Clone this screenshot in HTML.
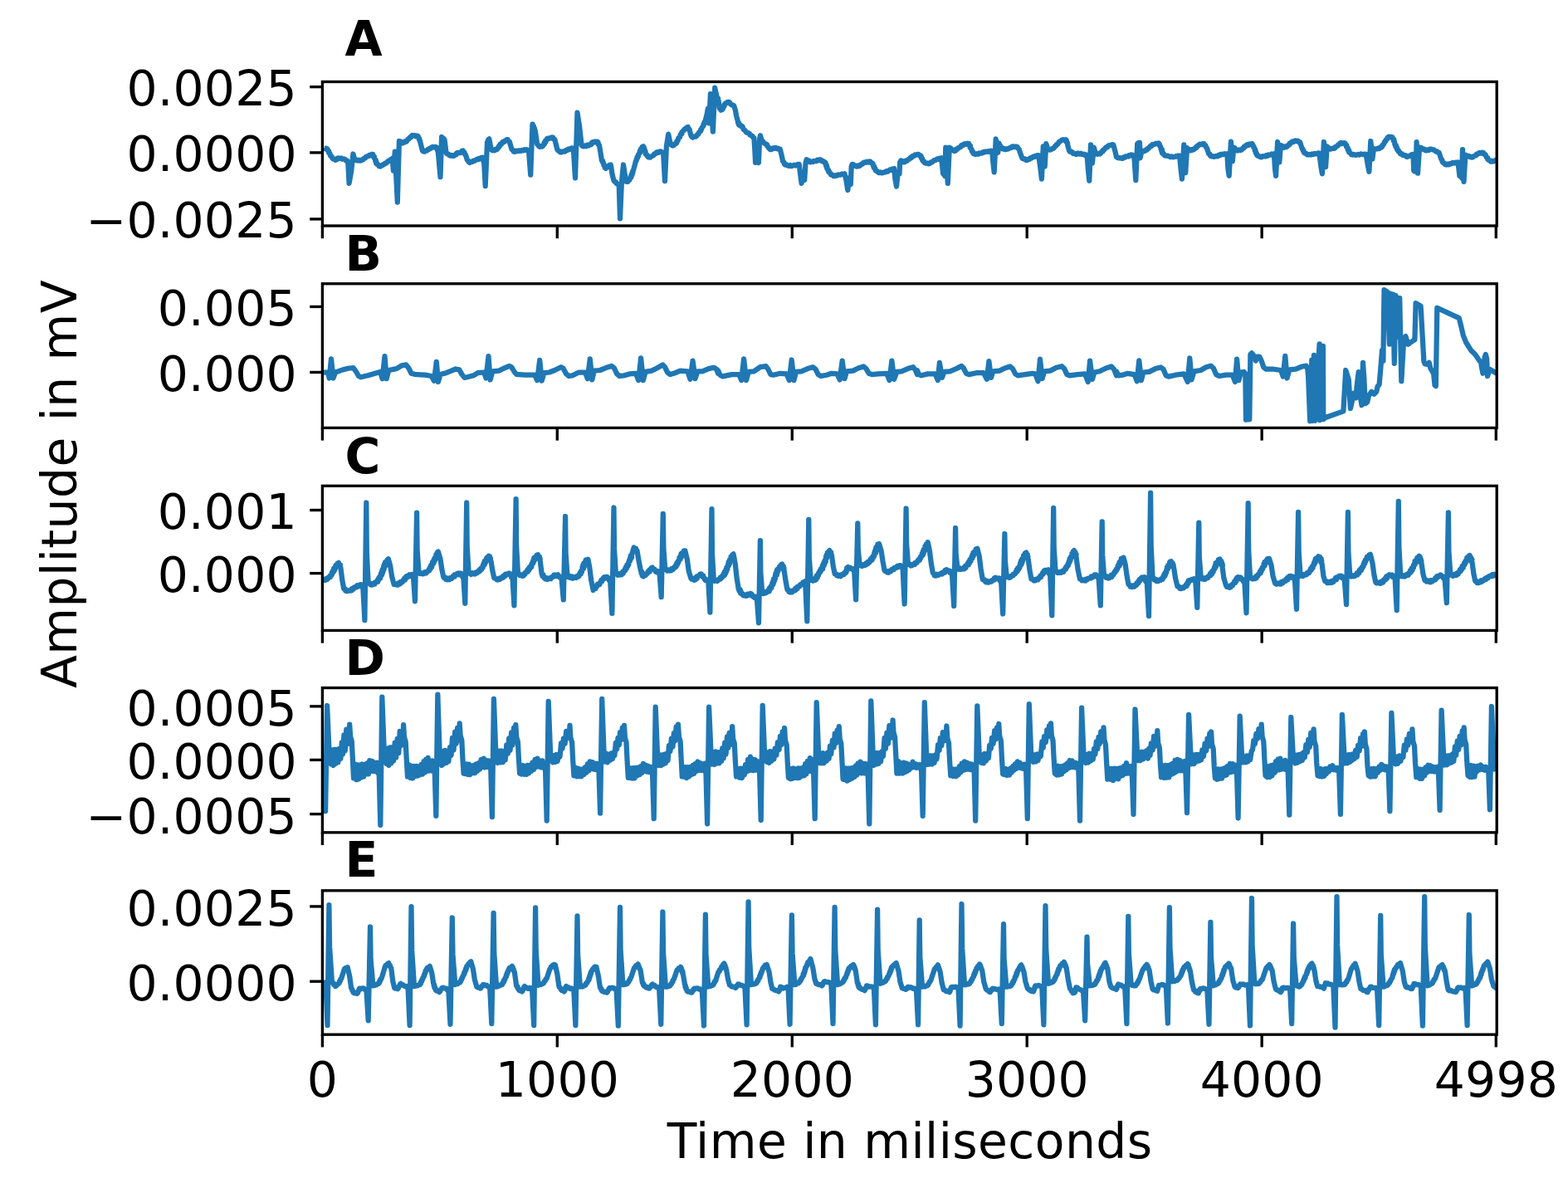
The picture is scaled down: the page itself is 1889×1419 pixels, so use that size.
<!DOCTYPE html>
<html lang="en"><head><meta charset="utf-8"><title>ECG signals</title>
<style>
html,body{margin:0;padding:0;background:#fff;}
body{width:1889px;height:1419px;overflow:hidden;}
svg{display:block;}
text{font-family:"DejaVu Sans","Liberation Sans",sans-serif;font-size:58.33px;fill:#000;}
.ttl{font-weight:bold;}
.tl{letter-spacing:0.2px;}
.al{letter-spacing:0.42px;}
.sp{fill:none;stroke:#000;stroke-width:3.33;stroke-linecap:square;stroke-linejoin:miter;}
.tk{stroke:#000;stroke-width:3.33;stroke-linecap:butt;}
.ln{fill:none;stroke:#1f77b4;stroke-width:6.25;stroke-linejoin:round;stroke-linecap:butt;}
</style></head><body>
<svg xmlns="http://www.w3.org/2000/svg" width="1889" height="1419" viewBox="0 0 1889 1419">
<rect x="0" y="0" width="1889" height="1419" fill="#ffffff"/>
<defs>
<clipPath id="clipA"><rect x="388.40" y="98.50" width="1414.80" height="173.50"/></clipPath>
<clipPath id="clipB"><rect x="388.40" y="341.75" width="1414.80" height="173.65"/></clipPath>
<clipPath id="clipC"><rect x="388.40" y="585.30" width="1414.80" height="174.15"/></clipPath>
<clipPath id="clipD"><rect x="388.40" y="828.55" width="1414.80" height="174.25"/></clipPath>
<clipPath id="clipE"><rect x="388.40" y="1072.80" width="1414.80" height="173.40"/></clipPath>
</defs>
<g id="panelA">
<polyline class="ln" clip-path="url(#clipA)" points="390.1,178.2 391.4,179.1 393.2,178.6 394.5,179.5 394.6,181.1 396.2,182.1 396.0,183.9 397.5,184.9 397.7,186.5 398.3,187.9 399.8,188.8 400.2,190.3 401.2,191.5 403.1,191.5 404.1,192.8 405.5,192.3 406.4,190.8 407.9,190.3 409.4,190.9 411.2,190.4 412.5,191.7 414.2,191.6 415.7,191.9 416.7,193.4 418.3,193.5 419.3,196.6 420.6,220.8 423.1,206.8 425.4,185.5 427.6,192.8 429.1,192.4 430.6,193.6 432.2,192.7 433.6,193.7 435.2,193.5 436.2,192.4 437.8,192.1 438.5,190.7 440.1,190.4 440.8,188.9 442.2,188.4 443.7,188.2 444.8,187.0 446.5,187.3 447.6,185.8 449.2,185.8 449.4,187.5 450.9,188.5 450.7,190.3 451.7,191.6 452.7,192.6 452.3,194.3 453.6,195.2 453.2,196.9 454.2,197.9 455.8,198.3 456.5,200.1 458.1,200.5 459.0,199.3 460.6,199.3 461.4,198.0 463.0,197.9 463.8,196.5 465.4,196.5 466.3,195.4 467.3,194.1 469.2,194.0 469.9,192.4 471.7,192.3 472.7,190.9 473.9,205.5 475.8,182.7 478.8,243.7 480.9,170.0 482.5,170.3 483.3,171.9 484.7,172.5 485.7,171.5 487.3,171.7 488.0,170.2 489.6,170.5 490.5,169.3 491.2,168.0 492.8,167.4 493.3,165.8 495.1,165.5 495.5,163.8 496.8,163.0 498.1,163.5 499.7,163.1 500.9,164.3 502.5,163.5 503.8,164.2 504.0,165.8 505.2,166.9 505.0,168.5 506.1,169.7 506.3,171.2 508.9,181.4 509.9,182.5 511.4,182.7 512.5,181.6 514.2,181.6 515.0,180.1 516.7,180.1 517.5,178.6 519.2,178.7 520.1,177.2 521.6,176.9 523.0,177.5 524.6,176.9 526.0,177.6 527.9,183.9 530.5,213.2 532.1,164.9 533.0,166.4 534.7,167.2 535.6,168.7 537.5,183.9 538.4,185.4 540.3,185.6 541.3,187.1 542.7,187.7 544.2,186.9 545.5,187.9 547.0,187.7 547.8,186.5 549.6,186.3 550.0,184.5 551.4,183.9 553.3,184.3 555.2,183.9 556.1,182.2 557.8,181.4 558.3,182.9 559.7,183.7 559.7,185.5 561.0,186.5 562.9,192.8 564.2,193.6 564.7,195.2 566.0,196.0 567.3,195.1 569.0,195.0 570.0,193.7 571.8,193.8 573.0,192.8 574.2,191.9 575.9,192.2 577.0,190.8 578.8,191.3 579.8,189.8 581.3,189.7 583.2,196.6 584.7,224.0 587.0,171.2 588.2,170.2 588.1,168.4 589.3,167.4 591.5,178.9 592.1,180.3 593.4,181.4 594.6,180.7 596.0,181.3 597.0,179.9 598.4,180.1 599.5,179.3 599.8,177.8 601.2,177.3 601.2,175.6 602.7,175.2 602.7,173.6 604.5,173.2 604.8,171.9 605.7,170.8 607.3,171.0 608.1,169.7 609.6,169.6 610.3,168.2 611.8,168.1 612.3,169.7 613.9,170.8 614.3,172.5 616.2,178.9 616.8,180.3 618.4,181.1 618.8,182.7 620.4,182.8 621.8,181.6 623.5,182.1 625.0,181.4 625.0,182.0 626.3,181.3 627.8,181.8 629.0,180.9 630.5,181.4 631.7,180.1 633.3,180.9 634.5,180.1 636.1,181.1 637.1,182.7 639.2,210.6 641.5,149.6 641.5,151.1 642.9,152.0 642.8,153.6 644.0,154.6 643.8,156.2 644.7,157.3 647.2,173.8 648.5,174.6 649.1,176.1 650.4,176.9 651.6,176.1 653.1,176.5 654.2,175.7 654.6,174.3 655.9,173.5 655.6,171.9 657.3,171.2 657.0,169.5 658.5,168.8 658.7,167.4 659.8,166.6 661.3,167.1 662.4,166.2 663.8,166.4 664.9,165.3 666.3,165.5 666.7,167.2 668.5,168.2 668.8,170.0 671.4,180.1 672.2,181.4 673.8,181.9 674.6,183.3 676.3,183.5 677.9,182.4 679.6,182.7 681.1,182.4 681.9,180.9 683.6,181.0 684.5,179.7 686.2,180.0 687.3,178.9 689.0,178.3 690.8,178.9 693.0,214.4 695.5,135.7 698.1,152.2 700.6,175.0 702.0,176.2 703.8,176.3 704.9,175.5 706.4,176.2 707.4,174.8 709.0,175.4 710.0,174.2 711.4,174.4 712.7,173.7 712.7,171.9 713.9,171.2 715.4,171.5 716.7,170.4 718.3,171.3 719.7,170.6 720.7,171.8 720.5,173.7 721.9,174.7 722.2,176.3 724.7,191.6 724.8,193.0 726.2,193.9 726.0,195.5 727.2,196.5 727.3,197.9 727.4,199.4 729.1,200.2 728.7,202.0 729.8,203.0 730.6,201.6 732.3,201.2 733.0,199.8 734.2,198.8 735.8,198.5 737.4,209.3 739.3,217.0 740.1,218.5 741.9,219.2 742.5,220.8 744.0,221.7 745.7,222.1 747.0,263.3 748.9,219.5 751.0,198.5 752.7,209.3 754.6,218.9 756.5,218.9 756.9,217.5 758.3,216.8 758.5,215.3 759.7,214.4 760.5,213.3 760.2,211.8 761.5,210.8 761.1,209.2 762.4,208.2 761.9,206.6 762.9,205.5 766.0,194.1 766.9,193.0 766.8,191.4 768.0,190.4 767.7,188.8 769.1,187.9 769.0,186.3 769.8,185.2 771.0,184.1 770.7,182.2 772.1,181.3 771.9,179.5 773.4,178.5 773.7,176.9 774.9,176.3 775.8,177.4 775.4,179.0 776.6,180.0 776.1,181.6 777.6,182.5 777.5,183.9 777.8,185.7 779.5,186.7 780.0,188.4 781.4,189.5 783.2,189.7 784.6,188.4 786.4,187.7 787.5,187.0 787.9,185.5 789.6,185.3 790.2,183.9 791.6,183.1 793.4,183.8 794.8,182.4 796.5,182.7 797.6,183.6 799.1,183.9 801.0,218.2 802.9,176.3 805.2,161.7 807.2,171.2 808.2,172.8 808.5,174.6 810.2,175.5 811.8,175.0 812.8,173.4 814.4,172.9 815.4,171.8 815.3,170.2 816.7,169.3 816.9,167.8 817.4,166.2 819.0,165.2 819.5,163.6 819.7,162.0 821.5,161.1 821.3,159.3 822.4,158.1 823.6,157.4 824.1,156.0 825.7,155.6 826.3,154.3 827.4,153.4 828.8,153.0 829.0,154.8 830.6,155.9 830.9,157.7 832.6,163.6 833.4,164.9 834.7,165.7 836.1,164.5 838.0,164.6 839.4,163.6 840.1,162.1 841.6,161.3 842.0,159.6 843.2,158.5 844.4,157.6 844.2,156.0 845.5,155.1 845.6,153.6 846.6,152.6 847.6,151.4 847.4,149.7 848.8,148.7 848.5,147.0 849.6,145.8 851.7,137.4 852.9,130.6 854.2,148.4 855.9,113.2 858.9,158.5 861.2,105.6 863.5,116.2 863.6,117.7 865.1,118.5 864.6,120.2 865.6,121.3 866.9,130.6 868.0,131.4 868.6,132.7 870.2,132.0 871.1,130.6 871.5,129.0 872.7,127.7 872.6,126.0 873.7,124.6 875.2,124.2 876.2,123.0 877.8,122.8 879.2,123.4 879.9,125.1 881.3,126.3 883.0,126.6 884.3,127.6 886.0,133.1 887.2,139.9 888.9,145.8 888.9,147.3 890.2,148.2 889.7,149.8 890.6,150.9 892.1,150.8 893.0,152.1 894.4,152.2 895.7,156.0 897.4,156.9 898.3,158.5 899.7,159.9 901.6,160.2 903.0,161.0 903.5,162.6 905.0,163.2 906.5,163.8 907.1,165.4 908.4,166.1 909.3,179.7 910.1,195.8 911.8,179.7 913.9,196.2 915.2,167.0 916.0,163.2 917.7,169.5 919.3,170.5 920.3,172.1 921.3,173.1 922.8,173.3 924.1,174.3 924.2,176.1 925.7,176.9 926.2,178.4 927.9,180.1 929.4,180.1 930.2,178.6 931.9,179.1 933.0,178.0 934.4,177.9 935.6,179.2 937.1,178.7 938.3,179.9 939.8,179.7 941.5,186.5 943.1,194.1 944.5,195.6 944.8,197.5 946.0,198.6 947.9,198.4 949.1,199.6 950.6,200.0 952.0,199.0 953.5,200.2 955.0,199.6 956.6,198.7 958.4,199.5 960.0,198.8 961.3,197.8 962.8,197.9 964.1,209.3 965.6,220.8 967.3,209.3 969.2,217.0 970.5,196.6 971.7,192.2 972.8,193.3 974.6,193.3 975.2,195.0 976.8,195.4 978.0,194.7 979.4,195.1 980.5,194.0 981.9,194.1 983.5,194.1 984.6,192.6 986.3,193.1 987.6,192.2 989.0,192.6 989.9,194.0 991.6,193.8 992.4,195.2 994.0,195.4 994.7,196.5 994.5,198.0 995.8,199.0 995.4,200.6 996.6,201.6 996.3,203.1 997.1,204.3 998.4,205.3 998.3,207.1 999.9,207.8 1000.3,209.3 1001.3,210.7 1003.1,210.7 1004.1,211.9 1005.6,212.2 1006.9,211.1 1008.4,211.5 1009.6,210.4 1011.1,210.6 1012.8,210.7 1014.2,209.5 1016.0,210.1 1017.5,209.3 1019.4,217.0 1021.3,229.0 1023.2,214.4 1024.8,222.1 1025.7,200.5 1026.6,197.9 1028.0,198.1 1028.8,199.7 1030.4,199.4 1031.4,200.5 1032.8,200.5 1033.9,199.4 1035.4,200.0 1036.5,199.2 1037.4,197.8 1039.3,197.6 1040.0,195.9 1041.6,195.4 1043.1,195.8 1044.4,194.7 1045.8,195.5 1047.2,194.5 1048.6,194.7 1049.3,196.1 1051.0,196.5 1051.8,197.9 1051.8,199.4 1053.1,200.3 1052.7,201.9 1054.2,202.8 1054.3,204.3 1055.1,205.6 1056.8,206.0 1057.5,207.4 1059.0,208.1 1060.7,207.3 1062.2,208.4 1063.8,208.1 1065.1,207.3 1066.8,207.5 1067.9,206.2 1069.6,206.6 1070.8,205.5 1071.9,204.5 1073.5,204.9 1074.5,203.6 1076.0,203.8 1077.2,203.0 1078.4,215.7 1080.0,224.6 1081.6,209.3 1083.5,209.3 1084.2,195.4 1085.4,193.5 1087.2,194.0 1088.6,195.4 1090.1,195.2 1090.9,193.6 1092.6,193.9 1093.7,192.8 1094.5,191.7 1096.0,191.4 1096.6,189.9 1098.3,189.9 1098.8,188.3 1100.0,187.7 1101.5,187.8 1102.4,186.5 1103.9,186.7 1105.0,185.8 1105.0,185.8 1106.4,185.9 1107.4,187.2 1108.8,187.1 1109.8,188.3 1109.7,190.1 1111.2,191.1 1111.1,192.8 1112.0,194.1 1113.4,194.5 1113.9,196.1 1115.2,196.6 1117.1,196.5 1119.0,197.3 1120.4,196.8 1121.3,195.4 1123.0,195.3 1124.1,194.1 1125.1,193.1 1126.8,193.2 1127.9,192.2 1129.0,191.4 1130.5,191.9 1131.6,190.7 1133.1,191.0 1134.2,190.3 1136.1,209.3 1137.6,210.3 1138.3,211.9 1139.3,177.6 1141.8,220.8 1143.8,177.6 1145.7,178.9 1146.6,180.3 1148.5,180.6 1149.5,182.0 1151.1,181.6 1151.7,179.9 1153.6,179.8 1154.3,178.2 1155.8,177.6 1157.4,177.0 1158.0,175.2 1160.0,175.2 1160.9,173.8 1162.5,173.2 1164.1,173.8 1165.6,172.7 1167.3,173.1 1167.6,174.7 1169.1,175.8 1168.6,177.7 1169.8,178.9 1170.7,180.1 1170.7,181.9 1172.2,182.9 1172.3,184.6 1173.8,185.6 1175.5,185.8 1176.9,185.2 1178.5,185.7 1179.7,184.5 1181.2,184.6 1182.7,184.7 1183.7,183.5 1185.2,183.8 1186.2,182.6 1187.6,182.7 1189.1,182.8 1190.6,182.1 1192.2,182.8 1193.6,181.6 1195.2,182.0 1196.5,196.6 1197.7,207.4 1199.7,167.4 1202.2,183.9 1203.5,172.5 1203.4,174.0 1204.7,174.9 1204.5,176.5 1205.4,177.6 1206.9,177.7 1207.7,179.3 1209.4,179.0 1210.5,180.1 1211.8,180.2 1212.9,179.2 1214.3,179.5 1215.5,178.9 1216.7,177.9 1218.3,178.0 1219.1,176.5 1220.6,176.3 1222.3,177.0 1224.0,176.4 1225.7,176.9 1226.2,178.6 1227.7,179.7 1228.2,181.4 1230.8,189.0 1231.7,190.7 1233.3,191.6 1235.0,191.4 1236.1,193.0 1237.8,192.8 1238.8,191.9 1240.2,191.8 1240.9,190.4 1242.6,190.7 1243.5,189.7 1244.6,188.7 1246.2,189.2 1247.2,188.0 1248.7,188.4 1249.7,187.1 1251.1,187.1 1253.0,199.2 1254.9,215.7 1256.8,176.3 1258.7,200.5 1260.3,173.1 1262.5,180.1 1264.4,180.6 1266.4,180.1 1267.5,179.0 1269.2,178.9 1270.2,177.6 1270.8,176.1 1272.5,175.5 1272.9,173.9 1274.6,173.4 1275.2,171.9 1276.2,170.5 1278.0,170.0 1279.1,168.7 1280.7,168.1 1282.5,168.7 1284.1,168.1 1284.9,169.4 1284.6,171.1 1286.1,172.2 1286.0,173.8 1288.0,181.4 1288.9,182.7 1290.8,182.6 1291.8,183.9 1292.8,185.0 1294.5,184.8 1295.6,185.8 1297.0,185.9 1298.0,184.6 1299.4,184.6 1300.5,185.5 1302.1,184.7 1303.1,185.9 1304.5,185.8 1305.9,185.6 1306.9,187.0 1308.4,186.3 1309.6,187.1 1310.8,203.0 1312.3,217.6 1314.0,174.4 1315.9,196.6 1317.8,177.6 1319.7,183.9 1320.7,185.3 1322.3,185.8 1323.4,185.0 1325.0,185.5 1326.1,184.6 1326.7,183.1 1328.5,182.6 1328.7,180.8 1330.5,180.3 1331.2,178.9 1332.2,177.6 1334.0,177.4 1334.8,175.7 1336.2,175.0 1338.0,175.2 1339.6,174.2 1341.3,174.4 1343.2,181.4 1345.0,189.0 1345.0,189.0 1346.1,189.9 1347.5,190.3 1349.5,190.2 1351.4,190.9 1352.8,190.9 1353.7,189.5 1355.3,189.7 1356.2,188.3 1357.7,188.4 1359.1,188.5 1360.1,187.2 1361.7,187.7 1362.7,186.4 1364.1,186.5 1365.0,187.5 1366.3,187.7 1368.3,217.0 1370.2,173.1 1371.4,172.1 1373.0,171.9 1373.6,190.3 1375.5,181.4 1377.3,182.3 1379.3,182.0 1380.0,180.8 1381.7,180.6 1382.0,179.0 1383.8,178.9 1384.4,177.6 1385.5,176.4 1387.2,176.1 1387.9,174.3 1389.5,173.8 1391.1,173.8 1392.6,172.7 1394.3,173.1 1395.8,172.5 1396.8,173.6 1396.7,175.2 1398.0,176.2 1398.4,177.6 1398.4,179.0 1399.8,179.9 1399.2,181.5 1400.5,182.5 1399.9,184.1 1400.9,185.2 1402.4,185.7 1403.1,187.4 1404.7,187.7 1406.7,187.6 1408.5,188.4 1410.1,189.1 1411.7,188.4 1413.2,189.3 1414.9,189.0 1416.4,188.2 1418.1,188.7 1419.5,187.5 1421.2,187.7 1422.5,203.0 1424.0,215.7 1426.3,174.4 1428.2,208.1 1430.1,178.2 1431.2,179.5 1432.9,180.0 1433.9,181.4 1435.3,181.2 1436.3,180.0 1437.9,180.4 1439.0,179.5 1439.8,178.2 1441.5,177.9 1441.8,176.1 1443.4,175.7 1444.1,174.4 1445.6,173.6 1447.4,174.2 1448.8,173.1 1450.5,173.1 1450.8,174.5 1452.4,175.1 1452.5,176.7 1453.6,177.6 1456.2,185.2 1457.6,185.9 1458.0,187.6 1459.3,188.4 1460.9,188.1 1462.5,188.8 1464.1,188.1 1465.7,188.4 1467.1,188.2 1468.0,186.9 1469.7,187.2 1470.6,185.8 1472.1,185.8 1473.7,186.2 1475.2,185.2 1476.9,186.0 1478.4,185.2 1479.4,203.0 1480.7,211.9 1482.9,170.6 1484.8,194.1 1486.3,177.6 1487.6,178.1 1487.8,179.7 1489.4,180.1 1489.8,181.4 1491.5,181.5 1492.9,180.3 1494.7,181.0 1496.2,180.1 1496.9,178.8 1498.5,178.4 1498.8,176.7 1500.6,176.4 1501.3,175.0 1502.6,174.2 1504.2,174.9 1505.3,173.4 1507.0,174.0 1508.3,173.1 1509.2,174.1 1509.1,175.7 1510.5,176.4 1510.5,177.9 1511.4,178.9 1512.2,180.0 1511.8,181.5 1513.0,182.6 1512.7,184.1 1514.0,185.0 1514.0,186.5 1515.0,187.7 1516.7,187.9 1517.8,189.0 1519.5,189.3 1521.1,188.2 1522.9,188.4 1524.3,188.5 1525.3,187.2 1526.9,187.8 1527.8,186.3 1529.2,186.5 1530.8,186.7 1532.0,185.5 1533.6,185.9 1534.9,185.2 1536.0,203.0 1537.1,211.9 1539.1,171.0 1541.3,195.4 1542.9,175.0 1544.7,175.9 1545.7,177.6 1547.1,177.8 1548.2,176.5 1549.7,177.0 1550.8,176.3 1551.6,175.0 1553.2,174.6 1553.5,172.9 1555.2,172.6 1555.9,171.2 1557.0,170.3 1558.6,170.8 1559.6,169.5 1561.0,169.3 1562.1,170.2 1563.7,169.7 1564.6,171.3 1566.1,171.2 1568.6,178.9 1569.7,179.7 1569.6,181.3 1570.8,182.1 1570.8,183.6 1571.8,184.6 1573.4,184.8 1574.6,186.3 1576.2,186.5 1577.6,185.9 1579.2,186.5 1580.6,185.5 1582.1,186.0 1583.5,184.9 1585.0,185.2 1585.0,185.2 1586.5,185.5 1587.9,184.3 1589.4,184.6 1591.4,200.5 1592.9,209.3 1594.9,171.0 1597.1,201.1 1598.7,176.3 1599.3,177.6 1600.9,178.1 1601.5,179.5 1603.3,179.6 1604.9,178.7 1606.6,178.9 1608.2,178.4 1608.8,176.7 1610.4,176.3 1611.6,175.6 1612.1,174.2 1613.7,173.8 1614.2,172.5 1615.8,172.0 1617.4,173.0 1619.0,172.1 1620.6,172.5 1620.8,174.0 1622.2,174.9 1622.0,176.6 1623.1,177.6 1624.0,178.7 1623.7,180.3 1625.2,181.2 1624.8,182.8 1625.7,183.9 1627.2,184.4 1627.9,186.1 1629.5,186.5 1631.2,185.9 1632.9,186.9 1634.6,186.5 1636.1,185.9 1637.8,186.5 1639.3,185.4 1640.9,185.8 1642.5,186.2 1644.1,185.5 1645.7,185.8 1647.9,199.2 1649.4,206.8 1651.3,170.0 1653.4,191.6 1654.9,178.9 1656.7,179.6 1658.7,179.5 1659.8,178.6 1661.4,179.0 1662.4,177.7 1663.8,177.6 1665.2,176.6 1665.4,174.8 1666.9,174.0 1667.6,172.5 1667.9,171.0 1669.4,170.1 1669.5,168.5 1671.1,167.7 1671.4,166.1 1672.4,165.0 1673.9,164.6 1675.1,165.3 1676.6,164.9 1677.7,165.5 1677.9,167.1 1679.3,168.1 1678.9,169.8 1680.1,171.0 1680.3,172.5 1680.3,174.0 1681.7,174.9 1681.3,176.5 1682.9,177.4 1682.8,178.9 1683.1,180.3 1684.7,180.9 1684.7,182.6 1686.2,183.2 1686.6,184.6 1687.7,185.6 1689.4,185.5 1690.2,187.0 1691.7,187.1 1693.2,187.2 1694.1,188.7 1695.5,189.0 1696.6,188.0 1698.3,188.1 1699.3,187.1 1700.8,186.1 1702.5,185.8 1703.2,205.5 1704.2,206.5 1705.7,206.8 1706.6,171.2 1708.0,208.7 1710.1,177.6 1711.9,177.8 1713.3,178.9 1714.4,179.8 1716.1,179.7 1716.9,181.2 1718.4,181.4 1719.7,180.5 1721.4,181.0 1722.5,179.5 1724.1,179.5 1725.5,180.4 1727.3,180.3 1728.6,181.4 1729.6,182.5 1731.3,182.3 1732.2,183.6 1733.7,183.9 1736.2,191.6 1737.4,192.8 1737.5,194.8 1738.7,196.0 1740.3,196.5 1740.9,198.2 1742.5,198.5 1743.7,197.7 1745.2,198.3 1746.3,197.1 1747.8,197.5 1748.9,196.6 1750.3,195.9 1752.0,196.5 1753.4,195.6 1755.1,196.1 1756.5,195.4 1758.4,211.9 1760.1,212.8 1761.0,214.4 1762.0,180.1 1763.5,218.9 1765.4,186.5 1766.5,187.4 1768.0,187.7 1769.4,187.8 1770.4,189.0 1771.9,188.7 1773.0,189.7 1774.5,189.5 1775.4,188.0 1776.8,187.7 1778.2,187.3 1778.8,185.7 1780.4,185.7 1781.3,184.6 1782.7,183.9 1784.2,184.7 1785.5,183.7 1787.0,183.9 1787.6,185.6 1789.5,186.2 1790.2,187.7 1790.6,189.3 1792.2,190.0 1792.1,191.8 1793.4,192.8 1794.9,193.0 1795.6,194.6 1797.2,194.7 1798.3,193.9 1799.9,194.4 1801.0,193.5 1803.1,192.2"/>
<line class="tk" x1="388.40" y1="272.00" x2="388.40" y2="287.20"/>
<line class="tk" x1="671.30" y1="272.00" x2="671.30" y2="287.20"/>
<line class="tk" x1="954.30" y1="272.00" x2="954.30" y2="287.20"/>
<line class="tk" x1="1237.20" y1="272.00" x2="1237.20" y2="287.20"/>
<line class="tk" x1="1520.15" y1="272.00" x2="1520.15" y2="287.20"/>
<line class="tk" x1="1802.30" y1="272.00" x2="1802.30" y2="287.20"/>
<line class="tk" x1="373.20" y1="104.65" x2="388.40" y2="104.65"/>
<text class="tl" x="357.80" y="127.30" text-anchor="end">0.0025</text>
<line class="tk" x1="373.20" y1="183.85" x2="388.40" y2="183.85"/>
<text class="tl" x="357.80" y="206.40" text-anchor="end">0.0000</text>
<line class="tk" x1="373.20" y1="263.90" x2="388.40" y2="263.90"/>
<text class="tl" x="357.80" y="286.40" text-anchor="end">−0.0025</text>
<rect class="sp" x="388.40" y="98.50" width="1414.80" height="173.50"/>
<text class="ttl" x="415.40" y="67.10">A</text>
</g>
<g id="panelB">
<polyline class="ln" clip-path="url(#clipB)" points="390.1,448.5 395.2,448.5 396.7,455.5 399.0,432.3 401.5,455.5 404.1,448.5 413.0,445.4 420.6,443.5 425.7,443.2 428.8,447.3 432.0,453.0 434.6,454.3 443.4,452.3 453.6,449.2 458.1,447.9 460.6,456.2 463.5,429.2 465.7,456.2 468.2,446.0 477.7,444.1 484.1,440.3 489.2,439.4 492.4,443.5 495.5,449.8 499.3,450.8 512.1,451.7 519.7,453.0 522.9,458.7 525.8,435.8 527.9,460.0 530.5,451.1 537.5,449.2 543.8,446.6 548.9,444.5 553.3,445.4 556.5,451.1 559.7,454.9 562.9,454.3 570.5,452.3 575.6,449.2 583.2,448.5 585.5,455.5 588.5,429.2 590.6,457.4 593.4,447.3 601.0,446.6 607.3,443.5 613.7,440.9 616.2,442.2 620.0,448.5 622.6,451.1 625.0,451.1 625.0,451.1 632.6,451.7 644.1,451.7 647.2,458.1 650.2,433.9 652.7,458.7 655.5,449.2 661.8,448.5 668.2,446.0 675.8,442.2 678.4,443.5 682.2,450.4 685.3,453.0 689.8,452.3 697.4,448.5 705.0,448.5 707.8,456.2 710.8,432.3 713.3,457.4 715.8,446.6 722.8,446.0 730.5,442.8 736.8,440.9 740.0,443.5 743.2,450.4 746.3,453.0 752.1,452.3 758.4,450.4 766.0,449.8 769.2,458.1 772.1,431.4 774.9,458.1 777.5,447.9 785.1,446.6 791.4,443.5 798.4,439.4 801.0,442.2 804.1,448.5 807.3,451.1 811.8,449.8 819.4,446.6 828.3,447.3 831.5,456.8 834.6,434.6 837.4,456.2 840.4,447.3 846.1,447.3 853.7,444.1 860.0,442.8 863.2,444.7 865.0,449.8 865.0,446.0 867.5,451.7 870.7,453.4 881.5,451.1 890.4,451.1 893.2,458.1 896.1,432.3 899.0,458.1 901.8,447.9 908.2,447.3 915.8,442.2 922.8,441.2 925.3,444.7 928.5,451.1 931.7,451.7 940.0,449.8 947.6,450.4 950.8,458.1 953.7,433.5 956.5,458.1 959.0,447.9 965.4,447.3 973.0,444.1 979.3,442.2 982.5,444.7 985.7,451.1 988.9,453.0 995.9,451.7 1001.6,449.8 1008.6,450.4 1011.7,457.4 1014.7,434.6 1017.5,456.2 1020.0,447.3 1027.6,446.6 1034.0,443.5 1040.3,441.5 1043.5,444.1 1046.7,449.8 1050.5,451.1 1058.1,450.4 1068.3,449.8 1071.5,458.1 1074.4,434.6 1077.2,456.8 1080.4,447.9 1086.1,447.3 1093.7,444.1 1100.0,442.2 1102.6,445.4 1105.0,451.1 1105.0,446.0 1106.9,451.1 1110.1,452.3 1117.7,450.4 1126.6,450.4 1129.8,458.1 1131.9,436.8 1134.9,454.9 1137.4,447.9 1144.4,447.3 1152.0,444.1 1158.4,440.9 1160.9,443.5 1164.1,449.8 1167.3,451.1 1176.1,449.2 1185.0,449.2 1188.9,456.8 1191.4,435.2 1193.9,454.9 1196.5,447.3 1204.1,446.6 1210.5,443.5 1216.8,441.5 1220.0,444.1 1223.2,450.4 1226.3,452.3 1234.6,451.1 1243.5,449.8 1247.3,450.4 1250.5,459.3 1253.0,432.7 1255.6,456.2 1258.1,447.3 1265.1,446.6 1272.7,442.8 1279.1,441.2 1282.2,444.1 1285.4,451.1 1288.6,452.3 1298.1,451.1 1307.0,450.4 1310.8,460.0 1313.1,434.6 1315.9,456.8 1318.4,448.5 1324.8,447.3 1332.4,443.5 1338.8,441.5 1342.0,444.7 1345.0,452.3 1345.0,447.3 1347.5,452.3 1352.6,451.7 1358.3,449.8 1366.6,451.1 1369.8,459.3 1372.3,434.3 1374.9,458.1 1377.4,448.5 1384.4,447.9 1392.0,444.1 1398.4,442.4 1401.5,444.7 1404.7,452.3 1407.9,453.6 1416.1,451.7 1426.3,450.4 1430.8,460.0 1433.3,431.4 1435.5,457.4 1438.4,447.3 1446.6,446.0 1453.0,442.2 1458.7,440.7 1461.9,443.5 1465.1,451.1 1468.9,453.0 1477.1,451.7 1484.8,451.7 1487.9,460.0 1490.1,432.7 1492.4,458.1 1494.9,448.5 1498.7,447.9 1500.3,449.8 1501.0,505.7 1505.3,505.1 1506.4,426.9 1507.9,425.3 1511.4,429.5 1512.7,434.6 1514.6,429.5 1517.2,429.5 1519.7,434.6 1522.2,442.2 1525.4,444.7 1533.0,444.5 1543.2,446.0 1545.7,453.6 1548.3,428.8 1550.6,455.5 1553.4,445.4 1561.0,444.7 1568.6,441.5 1573.7,440.7 1575.2,444.2 1576.1,453.1 1578.2,507.3 1580.3,433.6 1581.2,506.8 1582.9,427.8 1584.1,506.8 1589.6,414.3 1589.8,506.0 1593.9,416.8 1594.3,505.1 1596.8,503.0 1618.4,495.4 1621.2,446.0 1624.8,457.3 1626.9,492.0 1629.0,482.7 1631.1,473.6 1633.7,479.3 1634.5,465.8 1636.7,448.1 1638.3,474.2 1640.5,488.2 1641.3,457.3 1642.0,436.8 1643.4,457.3 1644.7,486.1 1647.2,484.4 1648.9,476.8 1652.3,471.9 1655.3,474.7 1658.3,471.7 1659.5,465.8 1661.6,463.2 1663.3,443.9 1665.0,421.9 1666.4,434.6 1667.5,349.2 1671.5,351.6 1673.9,414.7 1674.7,353.7 1677.3,414.7 1678.1,354.5 1679.8,437.9 1681.5,356.0 1684.0,405.8 1686.2,359.2 1688.3,459.2 1691.2,408.3 1693.4,405.1 1696.3,414.7 1699.3,412.5 1704.4,409.1 1705.6,365.1 1711.6,368.7 1713.7,405.8 1715.4,435.4 1716.7,438.4 1719.6,438.8 1721.7,436.8 1723.4,443.9 1725.5,447.3 1727.2,450.7 1728.5,464.2 1729.8,465.0 1731.3,370.8 1757.7,383.1 1760.3,393.1 1762.8,404.1 1766.2,412.5 1772.1,421.9 1777.2,426.9 1780.6,432.0 1785.7,438.8 1784.5,439.6 1786.4,449.8 1788.7,430.1 1789.8,426.9 1791.1,432.0 1792.1,453.0 1794.6,444.7 1803.1,449.8"/>
<line class="tk" x1="388.40" y1="515.40" x2="388.40" y2="530.60"/>
<line class="tk" x1="671.30" y1="515.40" x2="671.30" y2="530.60"/>
<line class="tk" x1="954.30" y1="515.40" x2="954.30" y2="530.60"/>
<line class="tk" x1="1237.20" y1="515.40" x2="1237.20" y2="530.60"/>
<line class="tk" x1="1520.15" y1="515.40" x2="1520.15" y2="530.60"/>
<line class="tk" x1="1802.30" y1="515.40" x2="1802.30" y2="530.60"/>
<line class="tk" x1="373.20" y1="369.45" x2="388.40" y2="369.45"/>
<text class="tl" x="357.80" y="392.30" text-anchor="end">0.005</text>
<line class="tk" x1="373.20" y1="448.45" x2="388.40" y2="448.45"/>
<text class="tl" x="357.80" y="471.30" text-anchor="end">0.000</text>
<rect class="sp" x="388.40" y="341.75" width="1414.80" height="173.65"/>
<text class="ttl" x="415.40" y="325.90">B</text>
</g>
<g id="panelC">
<polyline class="ln" clip-path="url(#clipC)" points="390.1,698.9 391.6,699.0 392.4,697.2 394.1,698.1 395.2,697.0 395.6,695.3 397.8,695.2 397.8,693.2 399.6,692.7 400.2,691.3 399.9,689.6 401.9,689.0 401.3,687.2 403.3,686.6 402.3,684.6 404.4,684.0 404.1,682.4 404.5,680.8 406.6,680.7 406.5,678.7 407.9,677.9 407.8,679.7 410.0,680.4 409.1,682.5 410.4,683.6 412.3,698.9 414.2,709.1 416.0,709.4 416.2,711.8 418.0,712.2 419.9,711.4 421.8,711.6 423.6,711.4 423.9,709.2 426.0,709.5 426.6,707.6 428.2,707.1 429.9,707.3 430.4,705.2 432.4,706.0 433.3,704.6 434.9,704.1 435.6,706.3 437.2,705.9 439.4,747.2 441.3,605.5 441.8,665.8 443.7,702.7 445.7,702.4 446.7,704.6 448.5,704.6 449.3,703.0 451.4,703.6 451.8,701.4 453.6,701.4 455.1,700.9 454.6,698.9 456.3,698.5 456.0,696.7 458.1,696.5 457.4,694.5 458.7,693.8 459.9,692.8 459.0,691.0 460.8,690.3 459.9,688.5 461.7,687.7 460.8,685.9 462.8,685.2 462.5,683.6 462.2,682.0 464.4,681.4 463.2,679.4 465.5,678.9 464.3,676.9 466.5,676.3 466.3,674.7 467.8,673.2 470.1,681.1 472.0,693.8 474.6,704.0 476.3,703.7 477.7,704.6 479.5,704.7 479.8,702.3 482.0,703.2 482.4,701.0 484.5,701.6 485.4,700.2 485.7,698.7 487.8,698.6 487.3,696.5 489.3,696.3 489.2,694.5 490.5,693.8 492.1,694.5 493.2,692.3 495.0,693.6 496.2,691.9 497.8,692.5 500.0,724.3 502.1,617.6 502.6,662.5 504.6,690.0 506.0,691.1 508.0,690.3 509.5,691.3 511.1,691.2 511.7,689.2 513.7,690.2 514.4,688.3 515.9,688.1 517.3,687.3 516.9,685.5 518.8,685.0 518.2,683.0 520.3,682.7 519.4,680.5 520.9,679.8 522.2,678.9 521.1,676.9 523.2,676.3 522.6,674.5 524.4,673.8 523.7,672.0 524.8,670.9 525.9,669.9 525.4,668.1 527.4,667.5 526.8,665.6 527.9,664.6 530.5,673.5 532.4,686.2 534.3,695.1 535.1,696.3 537.1,695.9 537.2,698.0 538.7,698.3 539.6,696.8 541.6,698.1 542.3,696.1 544.1,696.9 545.1,695.7 545.6,694.2 547.7,694.6 547.6,692.4 549.7,692.7 550.2,691.3 551.8,690.5 553.3,692.2 554.9,690.5 556.5,691.3 556.3,692.8 558.3,693.5 557.4,695.3 558.4,696.3 560.3,726.8 562.2,605.5 562.7,658.3 564.7,690.6 566.2,690.1 567.5,691.9 569.1,690.3 570.5,691.3 572.1,691.5 572.8,689.8 574.6,690.4 575.3,688.5 576.8,688.7 578.1,688.0 577.9,686.1 580.0,686.1 579.8,684.2 581.7,683.9 581.9,682.4 581.8,680.8 583.8,680.2 582.9,678.3 584.9,677.6 583.9,675.7 585.7,674.9 585.7,673.5 586.3,671.9 588.4,671.4 588.7,669.7 590.1,670.5 589.2,672.5 591.0,673.2 590.2,675.1 591.5,676.0 593.4,687.5 595.3,696.3 597.2,696.7 598.4,698.3 599.9,698.5 600.8,696.9 602.5,697.8 603.3,696.0 604.8,696.3 606.3,695.8 606.3,693.8 608.5,693.9 608.5,691.9 609.9,691.3 611.6,692.0 613.3,690.4 615.0,691.3 615.0,692.8 616.8,693.5 616.1,695.5 617.5,696.3 617.5,696.3 619.4,729.4 621.6,601.1 622.1,657.0 624.0,691.3 625.5,691.3 626.2,693.1 628.1,692.5 629.0,693.8 630.6,693.6 630.6,691.6 632.5,691.6 632.6,689.7 634.1,689.4 635.6,688.9 635.1,686.9 637.2,686.8 636.8,684.9 638.6,684.6 638.2,682.7 640.4,682.7 640.4,681.1 640.3,679.5 642.1,678.8 641.6,677.1 643.3,676.3 642.6,674.5 644.6,673.8 643.5,671.8 644.9,670.9 646.3,670.4 646.6,668.6 648.0,668.1 647.7,669.8 649.8,670.5 648.7,672.4 650.7,673.2 650.6,674.7 652.5,690.0 652.6,691.5 654.3,692.2 653.6,694.2 655.6,694.8 655.7,696.3 656.8,697.3 658.4,696.3 659.3,698.0 660.7,697.6 661.7,696.4 663.7,697.2 664.3,695.2 665.8,695.1 667.2,694.6 667.3,692.6 669.0,692.5 670.2,693.9 672.2,692.4 673.4,693.8 674.0,695.5 676.3,695.7 676.6,697.6 678.8,722.4 681.1,622.0 681.6,666.5 683.5,693.8 684.5,695.1 686.3,694.1 687.1,695.9 688.9,694.6 689.7,696.7 691.2,696.3 692.2,695.1 694.0,695.9 694.8,694.2 696.5,694.9 697.6,693.8 697.7,692.3 699.6,691.6 698.9,689.7 700.9,689.1 700.3,687.2 701.4,686.2 702.8,685.2 701.6,683.3 703.7,682.7 702.4,680.8 704.7,680.2 703.5,678.3 705.2,677.5 705.2,676.0 705.8,674.5 707.7,675.0 708.4,673.7 710.3,683.6 712.2,698.9 714.7,711.0 715.1,709.4 717.2,709.2 716.8,707.1 718.9,706.8 719.2,705.2 719.9,703.6 722.2,704.2 723.0,702.7 723.2,701.1 725.1,700.5 724.5,698.4 726.7,698.0 726.8,696.3 727.9,695.2 729.5,696.4 730.5,694.8 731.9,695.1 732.1,696.8 734.3,697.1 733.9,699.2 735.2,700.2 737.4,738.9 739.5,611.5 740.0,660.9 741.9,691.3 743.4,690.7 744.3,692.8 746.0,691.3 747.1,692.5 748.8,692.3 748.8,690.4 750.7,690.5 750.6,688.3 752.2,688.1 753.3,687.1 752.9,685.4 754.7,684.8 754.1,683.0 756.0,682.5 755.4,680.6 757.4,680.2 757.3,678.6 757.3,677.1 758.7,676.2 758.2,674.5 759.7,673.7 759.2,672.0 761.1,671.3 759.8,669.3 761.1,668.4 763.7,659.5 764.2,660.8 766.1,660.9 766.0,662.8 767.5,663.3 769.4,674.7 771.9,687.5 773.1,688.6 772.6,690.5 774.6,691.3 773.7,693.4 775.1,694.4 775.7,693.0 777.5,693.1 777.7,691.3 779.5,691.3 780.2,690.0 780.5,688.4 782.7,688.5 782.5,686.4 784.4,686.1 784.5,684.3 785.9,683.6 786.4,685.4 788.6,685.7 789.1,687.5 790.1,688.9 792.1,688.1 792.8,690.2 794.5,690.0 796.7,719.2 798.8,618.8 799.4,660.6 801.3,686.2 802.8,685.7 803.9,687.5 805.6,686.5 806.8,687.5 808.5,687.3 809.0,685.2 811.0,685.8 811.5,683.7 813.2,683.6 814.6,682.7 814.1,680.8 816.0,680.2 815.4,678.1 817.3,677.6 816.9,675.7 818.3,674.7 819.5,673.8 818.5,671.8 820.8,671.3 819.8,669.4 821.9,668.8 820.7,666.8 822.1,665.9 823.5,665.5 823.8,663.6 825.3,663.3 827.8,673.5 829.7,687.5 832.3,696.3 833.2,697.7 835.3,697.3 836.1,698.9 837.7,698.5 837.4,696.2 839.8,696.5 839.5,694.2 841.2,693.8 842.9,693.7 843.3,691.5 845.0,691.3 845.3,692.8 847.2,693.4 846.8,695.3 848.5,696.0 848.8,697.6 849.9,699.1 852.0,698.4 853.3,699.5 855.4,737.6 857.5,613.1 858.0,666.7 859.9,699.5 861.3,699.9 862.5,698.7 864.1,700.0 865.3,698.9 866.0,697.6 867.8,697.6 867.9,695.6 869.9,695.9 870.0,693.9 871.7,693.8 873.0,692.9 872.0,690.9 874.3,690.4 873.2,688.4 875.3,687.8 874.6,686.0 876.4,685.3 875.5,683.3 876.8,682.4 878.0,681.4 877.2,679.6 879.0,678.9 877.8,676.9 879.6,676.2 879.0,674.5 880.8,673.8 880.6,672.2 880.5,670.5 882.6,670.1 882.3,668.3 883.5,667.4 885.7,678.6 887.6,696.3 889.5,707.8 889.5,709.3 891.5,710.0 890.6,712.0 892.6,712.6 892.0,714.4 893.3,715.4 894.9,715.4 895.5,717.3 897.4,716.7 898.4,717.9 900.0,717.6 900.6,715.7 902.9,716.4 903.7,714.8 905.1,715.2 904.8,717.3 906.8,717.2 907.3,718.6 908.6,719.8 910.5,718.6 911.8,719.9 914.0,750.3 915.9,651.2 916.4,690.6 918.3,714.8 919.9,715.2 920.8,713.3 922.6,714.3 923.5,712.5 925.0,712.9 926.6,712.3 926.0,710.4 927.7,709.9 927.2,708.0 929.5,707.9 928.8,705.9 930.1,705.2 931.3,704.2 930.3,702.4 932.1,701.6 931.4,699.9 933.1,699.1 932.2,697.3 934.1,696.6 933.9,695.1 933.8,693.6 935.7,692.8 934.5,690.9 936.4,690.2 935.5,688.4 937.5,687.7 936.4,685.9 937.7,684.9 939.2,684.4 939.0,682.4 940.9,682.1 940.9,680.3 942.2,679.6 941.9,681.1 943.7,682.0 942.9,683.7 944.5,684.6 943.7,686.3 944.7,687.5 946.6,700.2 948.5,710.3 950.2,710.8 950.3,712.8 951.7,713.5 952.6,712.1 954.5,713.2 955.3,711.3 956.8,711.6 958.3,711.1 958.2,708.9 960.5,709.2 960.3,707.0 961.9,706.5 963.6,706.3 964.0,704.1 965.7,704.0 967.4,703.7 967.5,701.5 969.6,701.8 970.1,700.2 972.3,748.4 974.3,625.8 974.8,671.1 976.8,698.9 978.1,697.9 979.5,699.6 980.8,698.3 982.2,698.9 983.4,697.9 982.7,696.0 984.9,695.5 983.9,693.4 986.2,692.9 986.0,691.3 986.2,689.8 988.0,689.4 987.7,687.6 989.4,687.2 988.9,685.3 991.2,685.2 991.1,683.6 990.7,682.0 992.6,681.3 991.7,679.5 993.6,678.8 992.8,677.0 994.8,676.3 993.9,674.6 994.9,673.5 995.9,672.4 995.0,670.6 996.9,669.9 996.1,668.2 997.9,667.4 996.9,665.6 998.1,664.6 999.4,663.1 999.5,664.6 1001.2,665.4 1000.6,667.4 1001.9,668.4 1003.8,682.4 1005.7,691.3 1007.6,691.5 1008.4,693.5 1010.2,693.8 1011.2,692.7 1012.9,694.1 1013.8,692.2 1015.2,692.5 1016.9,692.2 1017.1,690.2 1019.0,690.2 1019.7,688.7 1019.4,687.0 1021.2,686.0 1020.2,684.1 1021.6,683.0 1022.4,684.5 1024.4,683.8 1025.4,684.9 1027.2,685.9 1029.0,684.9 1031.1,722.4 1033.3,630.3 1033.8,661.8 1035.7,681.1 1037.1,680.4 1038.5,682.0 1039.9,680.2 1041.3,681.1 1042.8,680.8 1043.1,678.7 1045.3,679.2 1045.4,677.0 1047.5,677.4 1048.3,676.0 1048.3,674.4 1050.6,674.4 1049.8,672.3 1051.8,672.1 1051.4,670.3 1053.3,669.9 1053.4,668.4 1053.1,666.9 1055.0,666.1 1053.8,664.3 1055.7,663.5 1054.8,661.9 1056.5,661.0 1055.4,659.3 1056.5,658.2 1057.8,657.5 1057.5,655.5 1059.1,655.1 1061.6,663.3 1063.5,676.0 1065.4,686.2 1065.9,687.8 1067.9,687.9 1068.6,689.4 1070.2,689.8 1071.0,687.9 1072.7,688.6 1073.7,687.5 1074.4,685.8 1076.7,686.2 1077.0,684.0 1078.8,683.6 1080.3,683.9 1081.0,681.9 1082.8,682.7 1083.5,681.1 1085.0,681.1 1085.9,682.7 1087.5,683.6 1089.7,727.5 1091.6,612.5 1092.1,654.2 1094.0,679.8 1095.9,679.4 1097.1,681.5 1099.0,681.1 1099.8,679.6 1102.0,680.0 1102.4,677.9 1104.4,678.1 1105.3,676.7 1105.6,675.1 1107.8,674.9 1107.4,672.9 1109.3,672.4 1109.1,670.5 1110.4,669.7 1111.8,668.7 1110.9,666.9 1112.7,666.1 1111.9,664.3 1113.8,663.6 1112.9,661.7 1114.2,660.8 1115.4,659.8 1114.6,657.8 1116.5,657.2 1116.0,655.4 1117.7,654.7 1117.8,653.1 1119.9,663.3 1121.8,678.6 1123.8,690.0 1125.2,691.3 1125.7,693.2 1127.4,693.7 1128.7,691.7 1130.5,692.8 1132.0,691.9 1133.1,690.9 1134.8,691.6 1135.5,689.7 1137.1,690.0 1138.8,689.3 1138.5,686.9 1140.3,686.2 1141.6,687.6 1143.4,687.5 1144.8,688.0 1144.7,689.8 1146.5,689.9 1147.0,691.3 1149.2,730.0 1151.1,636.0 1151.6,666.3 1153.5,684.9 1154.7,685.8 1156.1,684.4 1157.3,685.9 1158.7,684.8 1160.0,685.5 1161.6,685.3 1161.7,683.4 1163.6,683.6 1163.4,681.3 1165.0,681.1 1166.6,680.6 1165.9,678.5 1167.9,678.3 1167.3,676.3 1169.4,676.1 1168.6,674.0 1170.1,673.5 1171.4,672.5 1170.6,670.7 1172.6,670.0 1171.6,668.1 1173.6,667.4 1172.6,665.5 1173.9,664.6 1175.5,663.6 1175.6,661.5 1177.4,660.8 1179.7,669.7 1181.6,684.9 1183.5,696.3 1183.9,698.1 1186.2,698.4 1186.6,700.2 1187.7,701.2 1189.4,700.1 1190.3,701.7 1191.7,701.4 1192.7,700.1 1194.5,700.6 1195.2,698.9 1196.8,698.9 1198.3,698.3 1197.9,696.3 1199.3,695.7 1201.1,696.8 1203.2,696.3 1204.9,697.0 1204.4,699.5 1206.1,700.2 1208.2,739.5 1210.4,643.0 1210.9,675.3 1212.8,695.1 1214.5,694.5 1216.1,696.0 1217.8,695.1 1218.4,693.5 1220.4,693.4 1220.7,691.5 1222.8,691.5 1223.5,690.0 1223.8,688.6 1225.6,688.2 1224.9,686.2 1226.9,686.0 1226.3,684.0 1228.5,683.9 1228.6,682.4 1228.5,680.9 1230.4,680.2 1229.2,678.3 1231.4,677.6 1230.1,675.7 1232.2,675.1 1231.3,673.2 1232.4,672.2 1233.9,671.3 1233.1,669.1 1235.5,668.7 1234.8,666.6 1236.2,665.6 1235.8,667.2 1237.7,668.0 1236.9,669.7 1238.4,670.7 1237.8,672.3 1238.7,673.5 1240.6,687.5 1242.5,697.6 1244.4,698.1 1245.7,699.5 1247.4,699.4 1248.3,697.6 1250.4,698.4 1251.4,697.0 1251.8,695.4 1253.9,695.2 1253.7,693.1 1255.2,692.5 1256.6,691.8 1256.2,689.8 1258.3,689.6 1257.7,687.6 1259.1,686.8 1261.1,687.1 1262.9,686.2 1264.2,687.1 1263.0,689.0 1264.9,689.8 1264.1,691.5 1265.2,692.5 1267.3,741.4 1269.2,611.9 1269.7,659.5 1271.6,688.7 1273.1,688.3 1274.1,690.1 1275.7,689.1 1276.8,690.0 1278.3,689.8 1279.1,688.2 1281.1,688.9 1281.9,687.5 1282.2,686.0 1284.0,685.7 1283.6,683.9 1285.3,683.4 1285.1,681.7 1286.9,681.3 1287.0,679.8 1286.9,678.4 1288.4,677.5 1287.9,675.8 1289.5,675.0 1288.7,673.2 1290.4,672.4 1289.9,670.8 1290.8,669.7 1292.1,668.7 1291.5,666.7 1293.5,666.1 1292.9,664.2 1294.0,663.1 1293.8,664.6 1295.5,665.5 1294.8,667.2 1296.6,668.0 1295.5,669.8 1296.5,670.9 1298.4,684.9 1301.0,697.6 1302.4,697.6 1303.3,699.3 1305.0,698.5 1306.1,699.5 1307.7,699.6 1308.3,697.6 1310.1,698.1 1310.9,696.5 1312.4,696.3 1314.1,696.5 1314.7,694.5 1316.7,695.2 1317.5,693.8 1318.6,692.4 1320.3,692.3 1320.4,693.9 1322.5,693.9 1322.3,695.7 1323.6,696.3 1325.8,729.4 1327.7,628.4 1328.2,668.9 1330.1,693.8 1331.6,693.7 1332.4,695.7 1334.3,694.6 1335.1,696.5 1336.6,696.3 1337.2,694.9 1339.2,694.9 1339.0,692.6 1341.2,692.8 1341.7,691.3 1342.0,689.9 1343.6,689.4 1343.4,687.7 1345.1,687.2 1344.9,685.5 1346.5,685.0 1346.8,683.6 1346.5,682.0 1348.7,681.5 1347.8,679.6 1349.8,678.9 1348.8,677.0 1350.9,676.4 1350.6,674.7 1350.8,673.0 1353.2,673.3 1353.5,671.6 1355.7,679.8 1357.6,693.8 1359.5,704.0 1361.1,704.6 1361.6,706.6 1363.3,707.1 1364.2,705.8 1366.3,706.7 1366.8,704.8 1368.7,705.2 1369.6,704.0 1369.6,702.4 1371.5,702.1 1371.2,700.3 1373.1,700.0 1372.6,698.1 1374.8,698.0 1374.7,696.3 1375.8,695.4 1377.5,696.3 1378.5,695.1 1380.0,695.9 1379.0,698.0 1381.2,698.5 1380.3,700.6 1381.8,701.4 1384.0,742.1 1386.1,593.7 1386.7,657.3 1388.6,696.3 1390.2,696.5 1390.8,698.5 1392.8,698.1 1393.3,700.2 1395.0,700.2 1395.9,698.8 1397.9,699.2 1398.6,697.4 1400.6,697.8 1401.4,696.3 1401.2,694.8 1403.3,694.1 1402.4,692.3 1404.3,691.6 1403.6,689.8 1405.4,689.1 1405.2,687.5 1405.3,686.0 1407.0,685.2 1406.0,683.3 1408.2,682.7 1407.4,680.9 1409.0,680.1 1409.0,678.6 1409.3,676.8 1410.9,676.3 1410.7,677.8 1412.8,678.4 1411.7,680.3 1413.7,680.9 1412.7,682.8 1414.1,683.6 1416.0,696.3 1418.5,706.5 1420.5,706.6 1421.2,708.8 1423.0,709.1 1424.0,707.8 1425.8,708.3 1426.5,706.5 1428.1,706.5 1429.6,706.0 1429.1,704.0 1430.9,703.7 1430.5,701.8 1432.2,701.4 1431.7,699.5 1433.2,698.9 1434.7,699.2 1435.9,697.9 1437.5,698.7 1438.6,697.1 1440.1,697.6 1442.3,731.9 1444.3,629.6 1444.8,671.0 1446.8,696.3 1447.9,697.4 1449.6,696.5 1450.7,697.9 1452.2,697.6 1452.9,695.9 1455.1,696.2 1455.6,694.1 1457.3,693.8 1458.6,693.1 1458.0,691.1 1460.1,691.0 1459.5,689.0 1461.6,688.8 1461.2,686.9 1462.4,686.2 1463.5,685.1 1463.0,683.4 1464.9,682.7 1464.0,680.9 1465.6,680.0 1464.7,678.2 1466.2,677.3 1467.8,676.4 1467.8,674.1 1469.6,673.5 1469.5,674.9 1471.2,675.8 1470.3,677.5 1472.2,678.3 1470.9,680.1 1472.9,680.8 1472.5,682.4 1474.4,696.3 1477.0,705.2 1478.0,706.9 1480.4,706.1 1481.4,707.8 1482.9,707.2 1482.9,705.2 1485.0,705.2 1485.1,703.3 1486.5,702.7 1488.0,702.1 1487.3,700.1 1489.5,699.9 1488.9,698.0 1490.8,697.7 1490.3,695.8 1491.6,695.1 1492.6,696.3 1494.3,695.4 1495.4,696.3 1495.9,698.0 1498.0,698.4 1497.9,700.5 1499.4,701.4 1501.5,738.3 1503.7,606.1 1504.2,662.1 1506.1,696.3 1507.6,695.7 1508.9,697.5 1510.5,696.1 1511.9,697.0 1513.6,696.4 1513.4,694.2 1515.4,694.0 1515.5,692.0 1517.0,691.3 1518.6,690.5 1517.9,688.4 1519.8,687.8 1519.4,685.9 1521.2,685.2 1520.9,683.4 1522.1,682.4 1523.6,681.5 1522.6,679.4 1524.8,679.0 1523.7,676.8 1526.0,676.4 1525.9,674.7 1527.0,673.0 1529.1,672.8 1531.6,681.1 1533.5,693.8 1536.1,702.7 1537.7,703.7 1539.5,702.4 1541.2,703.3 1542.9,703.6 1543.3,701.2 1545.4,702.3 1545.9,700.1 1547.5,700.2 1549.1,699.9 1549.2,697.8 1551.4,698.2 1551.2,695.8 1553.3,696.1 1553.3,694.0 1555.0,693.8 1555.9,695.0 1557.7,694.6 1558.2,696.5 1559.8,696.3 1562.0,733.8 1564.1,616.9 1564.7,664.6 1566.6,693.8 1568.0,692.9 1569.8,693.9 1571.1,692.0 1572.8,692.5 1574.4,692.0 1574.8,689.9 1577.0,690.2 1577.9,688.7 1578.0,687.1 1579.9,686.5 1579.3,684.5 1581.6,684.1 1581.0,682.0 1582.3,681.1 1583.4,680.0 1582.8,678.3 1584.6,677.6 1584.0,675.8 1585.6,675.0 1584.8,673.1 1586.1,672.2 1587.7,672.5 1588.3,670.3 1589.9,670.7 1589.4,672.3 1591.7,673.0 1590.6,674.8 1592.2,675.8 1591.4,677.4 1592.5,678.6 1594.4,693.8 1596.3,700.2 1598.1,700.1 1599.0,702.1 1600.7,702.1 1601.8,700.9 1603.5,702.0 1604.3,700.0 1606.0,701.2 1607.1,700.2 1607.5,698.4 1609.8,698.2 1609.2,695.8 1610.9,695.1 1612.3,695.4 1613.3,693.8 1614.9,695.0 1616.0,693.8 1617.3,694.8 1617.4,696.7 1619.5,697.2 1619.8,698.9 1622.0,728.1 1623.9,616.9 1624.4,664.6 1626.3,693.8 1627.8,694.6 1629.4,693.2 1630.9,694.3 1632.5,693.8 1633.1,692.4 1635.2,692.4 1635.0,690.2 1637.3,690.4 1637.6,688.7 1637.6,687.1 1639.9,687.1 1639.3,685.2 1641.0,684.7 1640.8,683.0 1642.5,682.6 1642.7,681.1 1642.6,679.6 1644.2,678.8 1643.6,677.0 1645.3,676.2 1644.8,674.5 1646.5,673.7 1646.5,672.2 1647.0,670.5 1649.2,670.5 1649.4,668.4 1650.9,667.8 1653.5,678.6 1655.4,692.5 1657.3,701.4 1658.6,702.4 1660.4,701.6 1661.7,702.7 1663.4,702.8 1663.9,700.7 1666.0,701.6 1666.8,700.2 1666.9,698.5 1669.0,698.4 1668.9,696.6 1670.9,696.5 1670.3,694.3 1671.9,693.8 1673.8,692.3 1674.9,693.5 1676.8,692.6 1677.5,694.7 1679.4,693.9 1680.5,695.1 1682.7,735.1 1684.8,603.9 1685.4,659.6 1687.3,693.8 1688.8,694.4 1690.4,693.3 1691.9,694.6 1693.5,693.8 1694.2,692.1 1696.6,692.7 1696.9,690.4 1698.6,690.0 1700.0,689.1 1699.2,687.0 1701.6,686.6 1700.8,684.5 1702.9,684.0 1703.0,682.4 1702.8,680.8 1704.6,680.1 1704.1,678.3 1705.9,677.6 1704.7,675.6 1706.2,674.7 1707.7,673.9 1707.3,671.8 1709.3,671.3 1709.6,669.7 1710.7,670.7 1709.6,672.5 1711.6,673.3 1710.4,675.1 1712.3,675.8 1711.5,677.5 1712.5,678.6 1714.4,691.3 1716.4,698.9 1717.9,698.7 1718.6,700.5 1720.5,699.4 1721.4,700.8 1723.0,701.3 1723.7,699.1 1725.5,700.4 1726.4,698.8 1727.8,698.9 1729.3,698.4 1729.0,696.3 1731.0,696.3 1730.9,694.4 1732.2,693.8 1733.8,694.4 1735.1,692.4 1736.7,693.2 1737.3,694.6 1739.3,694.8 1739.1,697.0 1740.6,697.6 1742.8,726.2 1744.9,617.3 1745.4,664.0 1747.4,692.5 1748.9,691.9 1750.2,693.8 1751.8,692.0 1753.2,693.2 1754.8,692.9 1754.8,690.9 1756.9,691.2 1756.9,689.2 1758.3,688.7 1759.6,688.0 1759.0,686.0 1761.0,685.8 1760.7,684.0 1762.7,683.8 1761.8,681.6 1763.4,681.1 1764.6,680.1 1764.0,678.2 1765.8,677.6 1765.4,675.8 1767.1,675.0 1767.2,673.5 1767.2,671.8 1769.3,671.6 1769.3,669.8 1770.6,669.0 1770.5,670.6 1772.1,671.6 1771.3,673.4 1773.4,674.2 1772.2,676.2 1773.5,677.3 1775.4,691.3 1777.3,700.2 1779.0,700.1 1779.5,702.2 1781.2,702.1 1782.2,701.0 1784.0,701.4 1784.5,699.3 1786.5,700.0 1787.5,698.9 1788.4,697.5 1790.4,697.8 1790.9,695.8 1792.9,696.1 1793.5,694.2 1795.0,693.8 1796.4,694.2 1797.5,692.3 1799.1,693.6 1800.2,691.9 1801.8,693.1 1803.0,692.3"/>
<line class="tk" x1="388.40" y1="759.45" x2="388.40" y2="774.65"/>
<line class="tk" x1="671.30" y1="759.45" x2="671.30" y2="774.65"/>
<line class="tk" x1="954.30" y1="759.45" x2="954.30" y2="774.65"/>
<line class="tk" x1="1237.20" y1="759.45" x2="1237.20" y2="774.65"/>
<line class="tk" x1="1520.15" y1="759.45" x2="1520.15" y2="774.65"/>
<line class="tk" x1="1802.30" y1="759.45" x2="1802.30" y2="774.65"/>
<line class="tk" x1="373.20" y1="614.50" x2="388.40" y2="614.50"/>
<text class="tl" x="357.80" y="637.20" text-anchor="end">0.001</text>
<line class="tk" x1="373.20" y1="690.60" x2="388.40" y2="690.60"/>
<text class="tl" x="357.80" y="713.30" text-anchor="end">0.000</text>
<rect class="sp" x="388.40" y="585.30" width="1414.80" height="174.15"/>
<text class="ttl" x="415.40" y="570.10">C</text>
</g>
<g id="panelD">
<polyline class="ln" clip-path="url(#clipD)" points="388.5,913.9 392.1,977.2 394.1,850.0 396.7,909.5 397.7,904.0 399.0,920.4 400.3,903.4 401.7,922.1 403.1,902.9 404.5,920.0 405.8,903.0 407.4,918.2 408.7,901.9 410.4,914.0 411.8,894.3 413.0,908.3 414.4,885.5 415.7,904.3 417.3,878.7 418.7,896.3 420.2,895.5 421.2,872.6 422.1,887.3 423.8,893.0 424.8,913.3 426.0,937.4 428.2,920.5 429.5,939.2 430.8,921.4 432.2,938.5 433.7,921.4 435.0,936.7 436.6,920.5 438.1,935.7 439.7,921.0 441.0,932.7 442.3,919.5 443.9,932.4 445.3,916.2 446.9,929.0 448.3,916.9 449.7,929.1 451.2,918.7 452.6,929.3 454.3,918.6 455.8,931.6 456.5,924.7 458.3,994.0 460.3,839.6 462.9,908.9 463.9,903.7 465.6,919.8 466.9,901.6 468.4,921.8 469.9,900.4 471.2,919.5 472.7,900.2 474.1,916.6 475.7,894.7 477.1,912.7 478.7,889.9 480.3,907.0 481.7,881.0 483.4,897.8 485.1,897.1 486.1,873.2 487.0,887.9 488.7,893.6 489.7,913.9 491.0,935.5 493.1,921.3 494.5,937.0 495.9,922.8 497.2,937.5 498.7,922.9 500.1,935.0 501.7,922.9 503.2,934.6 504.4,923.4 506.0,933.3 507.6,920.8 509.0,932.6 510.5,917.2 511.8,930.3 513.1,915.0 514.3,929.0 515.6,912.8 517.0,928.5 518.6,916.7 519.9,928.5 521.3,916.5 522.6,928.1 523.5,922.8 525.3,982.9 527.3,836.7 529.8,910.8 530.9,906.7 532.3,922.0 533.6,905.2 534.9,920.1 536.2,903.8 537.9,918.9 539.2,904.9 540.4,917.2 542.1,900.2 543.6,909.9 545.0,888.8 546.6,903.4 548.1,881.7 549.5,895.9 551.1,876.9 552.7,892.2 553.7,871.3 554.6,886.0 556.3,891.7 557.3,912.0 558.6,931.7 560.7,932.1 562.3,920.4 563.7,933.0 565.0,920.6 566.3,933.2 567.9,922.4 569.3,931.1 570.9,922.0 572.3,931.2 573.7,920.3 575.0,929.0 576.6,919.1 578.1,926.7 579.6,915.2 581.2,924.0 582.7,913.7 584.2,924.5 585.7,915.8 587.3,923.9 588.7,916.3 590.4,925.0 591.1,920.9 592.9,984.2 594.9,841.8 597.4,910.1 598.4,905.9 599.7,919.0 601.3,904.6 602.9,918.4 604.4,904.5 605.9,918.2 607.1,905.6 608.7,915.5 610.3,897.4 611.9,907.7 613.2,889.3 614.6,903.8 616.1,882.5 617.5,897.4 619.1,876.6 620.3,893.2 621.3,873.2 622.2,887.9 623.9,893.6 624.9,913.9 626.1,931.7 628.3,932.6 629.9,922.0 631.6,932.8 633.0,922.8 634.3,932.8 635.6,921.9 637.2,931.3 638.6,921.7 640.1,929.0 641.5,918.6 643.1,927.0 644.6,914.9 645.9,924.0 647.4,913.6 648.9,923.4 650.4,916.4 651.8,924.4 653.4,916.4 654.8,925.0 656.9,920.9 658.7,988.6 660.7,844.9 663.3,912.0 664.3,911.6 665.9,918.4 667.3,910.1 668.9,918.0 670.2,909.0 671.6,917.0 673.0,908.9 674.5,911.5 676.1,895.2 677.6,901.6 678.9,889.6 680.6,895.8 682.2,880.8 683.7,887.7 685.5,888.8 686.5,873.9 687.4,888.5 689.1,894.2 690.1,914.6 691.4,934.3 693.5,924.9 694.9,935.4 696.3,925.6 697.7,935.1 698.9,926.7 700.4,935.4 701.7,926.3 703.2,933.2 704.8,924.1 706.5,930.7 707.9,920.2 709.4,928.4 710.7,917.4 712.3,926.1 713.7,918.1 715.3,926.7 716.9,919.7 718.1,927.2 719.5,919.7 721.3,924.1 723.1,979.7 725.2,841.8 727.7,910.1 728.7,917.5 730.3,907.6 731.9,918.3 733.5,908.6 734.9,915.9 736.5,907.4 737.8,914.3 739.1,906.4 740.4,910.2 741.8,895.0 743.1,902.6 744.5,888.8 745.8,897.5 747.0,882.1 748.3,891.1 749.8,876.7 750.9,889.8 752.0,873.9 752.9,888.5 754.5,894.2 755.5,914.6 756.8,936.8 758.9,936.8 760.2,925.4 761.6,937.7 763.2,925.2 764.7,937.4 766.4,924.8 768.0,934.2 769.5,924.3 770.8,933.1 772.1,923.2 773.7,930.9 775.0,919.9 776.6,928.6 778.1,921.7 779.5,929.6 780.9,922.9 782.3,930.2 784.0,923.9 785.9,927.0 787.7,986.1 789.7,851.6 792.2,912.7 793.3,921.8 794.9,909.3 796.3,922.2 797.7,909.5 799.1,920.6 800.6,908.7 801.9,919.1 803.3,907.9 804.6,916.1 805.9,898.1 807.4,905.3 808.9,889.7 810.5,899.6 811.9,883.1 813.2,892.6 814.7,875.4 816.0,890.5 817.0,872.6 817.9,887.3 819.6,893.0 820.6,913.3 821.8,935.5 824.0,935.6 825.5,924.0 827.1,937.2 828.6,924.2 830.1,935.5 831.7,923.9 833.4,933.0 834.9,921.8 836.1,931.8 837.5,920.2 839.1,929.0 840.6,917.5 842.2,927.8 843.4,919.2 845.0,928.0 846.4,920.5 847.7,928.3 849.0,919.7 850.3,924.7 852.1,992.5 854.1,851.6 856.7,910.8 857.7,920.5 859.0,906.8 860.7,921.0 862.1,905.4 863.6,919.6 865.1,906.4 866.4,919.4 867.7,905.8 869.1,916.9 870.3,901.1 871.7,913.5 873.2,894.7 874.6,908.3 876.0,887.4 877.3,901.1 878.6,882.9 880.2,897.0 881.2,896.1 882.2,875.1 883.1,889.8 884.8,895.5 885.8,915.8 887.1,935.5 889.2,926.2 890.9,936.7 892.2,925.7 893.9,937.1 895.3,925.3 896.8,933.4 898.1,921.1 899.6,929.7 901.1,914.9 902.7,928.1 904.0,911.6 905.4,927.6 906.8,914.7 908.1,928.1 909.7,915.2 911.3,927.6 912.6,917.0 914.1,928.0 914.9,922.5 916.7,988.0 918.7,849.8 921.2,910.1 922.2,907.6 923.7,917.8 925.1,906.3 926.6,919.0 927.8,905.2 929.4,916.9 931.0,905.4 932.4,914.5 933.7,901.7 935.4,909.8 936.9,894.1 938.6,902.9 940.0,886.8 941.3,897.1 942.7,881.5 944.1,895.0 945.1,877.0 946.0,891.7 947.7,897.4 948.7,917.7 949.9,936.8 952.1,938.2 953.4,926.2 954.6,937.8 956.0,925.5 957.6,936.9 958.9,926.5 960.3,937.1 961.7,925.3 963.0,937.0 964.6,925.7 966.0,935.0 967.6,924.4 968.9,934.4 970.2,920.1 971.5,932.3 972.8,916.9 974.4,929.0 975.8,913.1 977.3,929.0 978.7,914.9 979.9,923.5 981.7,986.1 983.7,846.2 986.3,911.4 987.3,919.2 988.6,908.5 990.1,919.3 991.4,907.1 992.8,919.1 994.2,909.0 995.8,916.6 997.0,906.6 998.6,913.9 1000.0,898.6 1001.2,908.5 1002.9,892.0 1004.5,900.4 1005.8,883.3 1007.1,895.3 1008.7,879.6 1009.8,893.1 1010.8,875.1 1011.7,889.8 1013.3,895.5 1014.4,915.8 1015.6,938.7 1017.8,939.2 1019.4,925.4 1020.8,940.6 1022.4,925.6 1024.0,939.0 1025.4,925.3 1026.7,937.6 1028.3,924.6 1029.5,935.9 1031.0,922.4 1032.4,933.6 1033.6,919.6 1035.0,930.9 1036.5,917.6 1038.0,931.3 1039.3,919.5 1040.9,931.3 1042.1,919.9 1043.6,931.8 1045.0,920.3 1045.5,926.0 1047.3,992.5 1049.3,844.3 1051.8,911.4 1052.9,921.8 1054.1,907.1 1055.5,920.7 1056.8,907.0 1058.4,920.0 1059.7,907.1 1061.1,917.5 1062.4,905.4 1064.0,911.1 1065.6,888.8 1066.9,902.1 1068.4,882.7 1070.0,895.7 1071.4,874.1 1073.1,888.9 1074.6,887.4 1075.6,867.5 1076.5,882.2 1078.1,887.9 1079.2,908.2 1080.4,931.7 1082.6,917.2 1084.0,931.6 1085.6,919.4 1087.3,931.6 1088.6,918.6 1090.3,930.2 1091.5,919.4 1092.9,929.0 1094.3,920.5 1095.5,927.4 1096.9,921.2 1098.2,924.9 1099.5,917.7 1101.1,924.1 1102.5,919.9 1104.0,924.7 1105.6,921.0 1107.0,924.9 1108.3,921.2 1109.9,923.5 1111.7,982.9 1113.8,846.2 1116.3,913.3 1117.3,921.0 1118.6,910.2 1119.8,920.6 1121.2,910.3 1122.8,920.7 1124.1,910.3 1125.6,918.9 1127.2,909.2 1128.5,914.5 1130.1,897.1 1131.6,904.0 1132.8,889.2 1134.3,898.2 1135.9,882.1 1137.3,892.5 1139.4,891.4 1140.4,874.5 1141.3,889.2 1143.0,894.9 1144.0,915.2 1145.3,934.3 1147.4,926.2 1148.7,935.0 1150.3,926.6 1151.9,935.3 1153.2,926.3 1154.6,933.3 1155.9,923.1 1157.4,930.5 1158.7,919.7 1160.2,928.1 1161.8,917.4 1163.5,927.0 1164.8,918.6 1166.2,926.6 1167.6,919.9 1169.1,927.2 1170.6,920.5 1172.2,927.6 1173.5,924.1 1175.2,988.6 1177.3,850.3 1179.8,911.4 1180.8,910.6 1182.2,918.8 1183.6,909.3 1184.9,919.3 1186.2,907.8 1187.9,916.6 1189.2,908.0 1190.9,913.3 1192.2,897.8 1193.8,901.8 1195.0,888.8 1196.6,895.9 1198.2,880.2 1199.6,890.4 1200.9,876.6 1202.3,887.9 1203.3,872.0 1204.2,886.6 1205.9,892.3 1206.9,912.7 1208.1,932.4 1210.3,933.1 1211.7,926.1 1213.1,934.0 1214.7,926.8 1216.0,933.6 1217.5,925.4 1218.9,930.5 1220.2,923.0 1221.7,927.8 1223.0,920.1 1224.4,925.9 1225.7,917.4 1227.0,924.5 1228.5,918.8 1229.8,925.1 1231.2,920.7 1232.5,925.9 1234.0,920.6 1235.4,926.4 1236.0,923.5 1237.8,986.1 1239.8,848.1 1242.3,910.8 1243.3,909.8 1244.8,917.9 1246.2,909.3 1247.9,917.5 1249.2,908.5 1250.5,916.0 1252.2,908.0 1253.8,911.0 1255.4,893.5 1256.7,900.9 1258.1,887.2 1259.8,894.1 1261.3,879.2 1262.7,887.3 1264.1,874.1 1264.9,886.3 1266.0,871.3 1266.8,886.0 1268.5,891.7 1269.5,912.0 1270.8,931.7 1272.9,933.5 1274.4,922.6 1276.0,933.3 1277.3,923.4 1279.0,932.5 1280.2,923.0 1281.6,929.3 1283.1,921.4 1284.5,927.5 1285.8,919.5 1287.4,925.3 1288.7,916.0 1290.1,924.1 1291.5,916.4 1292.8,924.1 1294.5,918.4 1295.9,924.6 1297.2,919.2 1298.5,925.3 1299.2,922.2 1301.0,988.6 1303.1,852.6 1305.6,911.4 1306.6,910.3 1308.0,919.1 1309.5,908.8 1311.0,918.7 1312.4,907.6 1313.9,916.7 1315.2,908.5 1316.8,914.7 1318.1,902.0 1319.4,908.8 1320.8,893.4 1322.3,902.2 1323.5,888.0 1324.8,895.9 1326.3,881.5 1327.6,890.4 1328.5,892.3 1329.5,876.4 1330.4,891.1 1332.0,896.8 1333.0,917.1 1334.3,938.7 1336.5,925.7 1337.8,938.6 1339.4,925.8 1341.0,940.2 1342.7,925.7 1344.3,937.8 1345.6,926.0 1347.3,938.4 1348.7,925.4 1350.0,935.2 1351.3,925.0 1352.6,934.0 1354.2,922.6 1355.6,931.9 1357.0,919.2 1358.3,931.5 1359.9,922.8 1361.5,931.9 1363.1,922.9 1363.7,927.9 1365.5,981.0 1367.5,854.5 1370.1,908.2 1371.1,916.1 1372.5,906.5 1373.9,916.1 1375.5,905.7 1377.2,914.4 1378.6,905.7 1380.0,912.4 1381.4,904.2 1383.0,913.7 1384.3,901.7 1385.6,909.8 1386.9,895.3 1388.6,903.7 1390.1,887.0 1391.3,898.7 1393.3,897.1 1394.3,880.2 1395.2,894.9 1396.9,900.6 1397.9,920.9 1399.1,936.2 1401.3,922.4 1402.7,936.9 1404.3,921.9 1405.7,936.6 1406.9,922.1 1408.3,936.4 1409.7,921.5 1411.2,932.9 1412.5,919.9 1413.9,931.7 1415.6,916.0 1416.9,929.8 1418.4,914.9 1420.0,928.4 1421.3,915.9 1422.8,928.4 1424.2,917.6 1425.6,928.3 1427.2,916.9 1428.2,923.5 1430.0,979.1 1432.1,860.8 1434.6,911.7 1435.6,920.3 1437.1,909.4 1438.4,920.2 1440.0,909.1 1441.5,917.6 1442.7,908.9 1444.2,916.6 1445.8,908.7 1447.1,915.5 1448.4,903.3 1450.0,911.2 1451.6,895.6 1453.2,904.4 1454.6,889.7 1456.1,899.0 1457.3,883.7 1458.1,897.9 1459.1,881.5 1460.0,896.1 1461.7,901.9 1462.7,922.2 1463.9,937.4 1466.1,938.7 1467.7,926.4 1469.3,938.0 1470.6,926.7 1472.0,937.7 1473.5,925.9 1475.0,934.5 1476.3,925.0 1477.6,933.7 1478.9,922.8 1480.5,930.8 1481.9,919.8 1483.3,930.1 1484.9,920.1 1486.5,929.6 1488.1,921.6 1489.9,926.3 1491.6,985.5 1493.7,862.7 1496.2,912.3 1497.2,918.4 1498.8,911.7 1500.4,918.4 1501.7,910.3 1503.3,917.5 1504.9,910.2 1506.1,915.2 1507.8,904.6 1509.1,903.0 1510.3,892.2 1511.8,896.4 1513.4,883.9 1514.9,889.8 1516.4,878.1 1518.7,886.0 1519.7,872.6 1520.6,887.3 1522.3,893.0 1523.3,913.3 1524.5,934.3 1526.7,936.1 1528.3,923.1 1530.0,936.0 1531.3,922.1 1532.5,934.4 1534.1,921.5 1535.7,930.9 1537.1,917.1 1538.3,927.8 1539.7,914.6 1541.1,927.4 1542.4,913.6 1544.0,926.7 1545.3,917.4 1546.8,926.3 1548.3,915.8 1549.7,927.5 1551.5,922.2 1553.3,981.7 1555.3,864.0 1557.9,911.7 1558.9,910.0 1560.4,919.5 1561.8,909.6 1563.0,918.8 1564.3,909.2 1565.7,917.4 1567.3,908.3 1568.8,916.0 1570.3,906.3 1571.8,912.4 1573.4,897.1 1575.0,906.1 1576.3,890.8 1577.8,900.0 1579.3,882.9 1581.6,894.7 1582.6,878.3 1583.5,893.0 1585.2,898.7 1586.2,919.0 1587.5,934.3 1589.6,935.1 1591.2,926.0 1592.6,935.6 1594.0,927.0 1595.3,934.9 1596.5,926.1 1597.9,932.1 1599.3,925.8 1600.9,929.4 1602.4,923.5 1603.9,926.9 1605.4,922.3 1606.8,927.2 1608.4,924.9 1610.0,927.8 1611.4,925.1 1613.1,926.6 1614.9,981.0 1616.9,860.8 1619.5,911.4 1620.5,919.5 1621.9,910.1 1623.3,919.4 1624.6,909.2 1626.2,918.0 1627.5,908.9 1628.9,916.0 1630.2,908.2 1631.5,914.1 1633.1,903.7 1634.7,912.0 1636.1,898.0 1637.7,904.4 1639.1,889.2 1640.6,899.0 1642.0,884.2 1642.9,897.4 1643.9,881.5 1644.8,896.1 1646.4,901.9 1647.4,922.2 1648.7,934.3 1650.9,935.6 1652.4,926.1 1653.9,935.3 1655.3,925.9 1656.8,935.3 1658.4,926.2 1659.8,930.8 1661.4,923.7 1662.7,927.9 1664.3,920.8 1665.8,926.6 1667.4,922.8 1668.8,927.3 1670.3,923.5 1671.7,927.9 1672.6,926.0 1674.4,977.2 1676.4,858.9 1678.9,913.3 1680.0,912.8 1681.3,920.4 1682.7,911.6 1684.1,919.8 1685.8,910.3 1687.3,917.0 1688.7,910.5 1690.4,911.9 1691.8,897.7 1693.4,903.8 1694.9,890.3 1696.3,897.8 1697.9,884.0 1699.4,890.8 1700.4,893.2 1701.4,878.3 1702.3,893.0 1704.0,898.7 1705.0,919.0 1706.3,936.2 1708.4,926.1 1710.1,937.8 1711.6,926.7 1713.2,937.9 1714.8,926.7 1716.1,934.5 1717.5,924.4 1718.9,930.7 1720.4,921.6 1721.8,928.9 1723.3,922.2 1724.8,929.0 1726.4,923.7 1727.7,929.5 1729.3,924.2 1730.8,929.8 1732.3,923.6 1732.8,927.0 1734.6,975.9 1736.6,855.7 1739.2,912.7 1740.2,921.6 1741.7,910.3 1743.3,921.3 1744.6,910.4 1745.9,919.5 1747.3,910.0 1748.7,918.6 1750.0,908.5 1751.3,917.0 1752.9,899.4 1754.2,909.8 1755.7,892.7 1757.2,902.9 1758.6,886.9 1760.2,897.4 1761.7,880.5 1762.7,894.3 1763.7,876.4 1764.6,891.1 1766.2,896.8 1767.2,917.1 1768.5,934.3 1770.7,935.9 1772.3,922.0 1773.5,936.2 1775.2,922.6 1776.5,935.7 1777.8,923.3 1779.4,929.2 1780.7,922.7 1782.2,927.4 1783.9,921.4 1785.4,926.9 1787.1,923.9 1788.7,927.7 1790.2,923.8 1791.7,928.1 1793.1,926.0 1794.9,975.3 1796.9,851.0 1799.2,901.2 1800.2,926.6 1804.6,925.4"/>
<line class="tk" x1="388.40" y1="1002.80" x2="388.40" y2="1018.00"/>
<line class="tk" x1="671.30" y1="1002.80" x2="671.30" y2="1018.00"/>
<line class="tk" x1="954.30" y1="1002.80" x2="954.30" y2="1018.00"/>
<line class="tk" x1="1237.20" y1="1002.80" x2="1237.20" y2="1018.00"/>
<line class="tk" x1="1520.15" y1="1002.80" x2="1520.15" y2="1018.00"/>
<line class="tk" x1="1802.30" y1="1002.80" x2="1802.30" y2="1018.00"/>
<line class="tk" x1="373.20" y1="850.85" x2="388.40" y2="850.85"/>
<text class="tl" x="357.80" y="873.70" text-anchor="end">0.0005</text>
<line class="tk" x1="373.20" y1="915.40" x2="388.40" y2="915.40"/>
<text class="tl" x="357.80" y="938.40" text-anchor="end">0.0000</text>
<line class="tk" x1="373.20" y1="980.60" x2="388.40" y2="980.60"/>
<text class="tl" x="357.80" y="1003.70" text-anchor="end">−0.0005</text>
<rect class="sp" x="388.40" y="828.55" width="1414.80" height="174.25"/>
<text class="ttl" x="415.40" y="812.80">D</text>
</g>
<g id="panelE">
<polyline class="ln" clip-path="url(#clipE)" points="388.6,1183.0 389.7,1183.8 391.2,1183.4 392.4,1184.3 394.5,1235.1 396.4,1090.2 397.1,1140.9 399.9,1182.3 400.3,1183.8 401.9,1184.3 402.0,1186.0 403.6,1186.6 404.1,1188.1 405.5,1187.2 406.4,1185.7 407.9,1184.9 408.9,1183.8 408.8,1182.2 410.2,1181.3 410.2,1179.7 411.4,1178.7 411.7,1177.3 414.9,1167.1 416.0,1166.2 417.6,1166.2 418.7,1165.2 421.2,1176.0 423.1,1190.0 424.1,1191.2 424.2,1192.9 425.3,1194.1 425.7,1195.7 427.1,1196.4 428.8,1196.1 430.1,1197.0 431.1,1195.9 431.1,1194.3 432.4,1193.3 432.4,1191.7 433.3,1190.6 435.0,1191.0 436.7,1190.3 438.4,1190.6 439.2,1191.8 440.8,1192.4 441.5,1193.8 443.7,1229.4 446.0,1116.5 446.6,1155.5 449.4,1187.4 450.9,1187.2 452.0,1186.1 453.6,1186.4 454.6,1185.0 456.1,1184.9 457.1,1183.8 457.0,1182.1 458.4,1181.2 458.3,1179.6 459.6,1178.7 460.0,1177.3 463.8,1164.6 464.5,1163.1 466.3,1162.6 466.8,1160.9 468.2,1160.1 468.4,1161.7 469.8,1162.8 469.8,1164.4 471.0,1165.6 471.4,1167.1 473.3,1182.3 475.2,1190.0 476.4,1190.7 477.8,1190.6 479.0,1191.2 480.1,1190.1 480.2,1188.5 481.5,1187.6 481.7,1185.9 482.8,1184.9 483.9,1186.0 485.6,1186.3 486.6,1187.4 488.1,1188.3 490.0,1187.9 491.5,1188.7 493.6,1235.1 495.5,1092.1 496.2,1144.9 499.0,1188.1 500.4,1188.0 501.6,1186.9 503.1,1187.3 504.3,1186.3 505.7,1186.2 506.8,1185.1 506.7,1183.5 508.0,1182.5 507.8,1180.9 509.1,1179.9 509.1,1178.3 510.1,1177.3 510.9,1176.1 510.7,1174.6 511.8,1173.5 511.8,1172.1 512.8,1171.0 512.5,1169.5 513.8,1168.5 514.0,1167.1 514.9,1165.7 516.8,1165.4 517.8,1163.9 520.3,1172.2 522.2,1184.9 523.1,1186.0 522.7,1187.5 523.8,1188.6 523.5,1190.1 524.8,1191.1 524.8,1192.5 526.1,1193.6 527.9,1193.8 529.2,1195.1 530.4,1194.0 530.4,1192.3 531.8,1191.4 532.4,1190.0 534.1,1189.7 535.7,1190.7 537.5,1190.6 538.7,1191.4 539.1,1193.0 540.4,1193.8 542.5,1233.8 544.8,1105.5 545.5,1149.9 548.3,1186.2 549.5,1185.1 551.3,1185.2 552.4,1183.8 554.0,1183.6 555.0,1182.5 555.0,1180.9 556.2,1180.0 556.3,1178.4 557.4,1177.4 557.5,1175.9 558.4,1174.7 559.3,1173.6 558.9,1172.0 560.2,1171.0 560.2,1169.5 561.4,1168.6 561.0,1167.0 562.2,1166.0 562.1,1164.4 562.9,1163.3 564.1,1162.5 564.3,1161.0 565.8,1160.5 566.2,1159.0 567.3,1158.2 569.9,1167.1 571.8,1179.8 574.3,1188.7 575.7,1189.6 577.5,1189.5 578.8,1190.6 579.8,1189.6 580.0,1188.2 581.5,1187.5 581.9,1186.2 583.3,1186.2 584.4,1187.2 585.9,1186.6 587.0,1187.4 587.8,1188.6 589.4,1188.8 590.2,1190.0 592.3,1233.2 594.6,1099.8 595.3,1148.7 598.1,1188.7 599.5,1188.4 600.6,1187.3 602.2,1187.4 603.3,1186.2 604.8,1186.2 605.7,1185.0 605.7,1183.5 607.2,1182.6 606.9,1180.9 608.4,1180.0 608.3,1178.4 609.2,1177.3 610.1,1176.1 609.8,1174.6 611.0,1173.6 610.8,1172.1 612.0,1171.0 611.8,1169.5 612.9,1168.5 613.1,1167.1 614.0,1165.7 615.9,1165.4 616.9,1163.9 617.8,1165.2 617.6,1166.8 618.8,1167.9 618.7,1169.5 619.8,1170.7 620.0,1172.2 622.0,1186.2 622.2,1187.6 623.6,1188.5 623.5,1190.1 624.8,1191.0 625.0,1192.5 626.1,1193.5 627.7,1193.4 628.8,1194.4 629.8,1193.3 629.7,1191.7 631.0,1190.8 631.0,1189.1 632.0,1188.1 632.8,1189.2 634.3,1189.5 635.2,1190.6 636.7,1190.9 638.0,1189.9 639.6,1190.4 641.0,1190.0 643.2,1235.1 645.1,1093.4 645.7,1144.8 648.5,1186.8 649.8,1185.9 651.5,1186.2 652.7,1185.0 654.2,1184.9 655.3,1183.8 655.7,1182.1 657.1,1181.3 657.4,1179.6 658.7,1178.5 662.5,1167.1 663.6,1166.2 663.7,1164.6 665.2,1164.0 665.7,1162.7 667.2,1161.9 668.8,1162.0 671.4,1173.5 673.3,1187.4 673.8,1189.1 675.3,1190.2 675.8,1191.9 676.9,1193.1 678.6,1193.2 679.6,1194.4 680.5,1193.3 680.2,1191.7 681.6,1190.8 681.3,1189.2 682.2,1188.1 683.2,1189.3 685.0,1189.4 686.0,1190.6 687.2,1191.1 688.6,1190.5 689.9,1191.4 691.2,1191.2 693.4,1235.1 695.5,1103.3 696.1,1150.3 698.9,1188.7 700.2,1187.9 701.8,1188.5 703.0,1187.4 704.4,1187.4 705.6,1186.4 705.8,1184.6 707.4,1183.9 707.7,1182.2 708.9,1181.1 709.7,1179.9 709.3,1178.4 710.5,1177.4 710.2,1175.9 711.4,1174.9 711.0,1173.3 712.2,1172.3 711.8,1170.8 712.7,1169.6 713.7,1168.7 714.0,1167.2 715.3,1166.5 715.8,1165.2 717.0,1164.5 718.4,1164.6 720.9,1176.0 722.8,1188.7 723.2,1190.1 724.5,1191.1 724.4,1192.7 725.4,1193.8 726.9,1194.0 728.1,1195.1 729.8,1194.9 731.1,1195.7 732.0,1194.7 732.1,1193.3 733.3,1192.4 733.4,1191.0 734.3,1190.0 736.0,1190.3 737.7,1189.7 739.3,1190.0 740.2,1191.1 741.8,1191.4 742.6,1192.5 744.8,1235.7 747.0,1092.8 747.6,1144.1 750.4,1186.2 751.9,1186.2 753.0,1185.1 754.6,1185.5 755.9,1184.9 756.2,1183.4 757.6,1182.5 757.8,1180.9 759.1,1180.0 759.3,1178.4 760.3,1177.3 764.1,1165.8 765.4,1164.9 766.0,1163.3 767.7,1162.7 768.6,1161.4 769.3,1162.7 769.3,1164.3 770.4,1165.4 770.3,1167.0 771.5,1168.1 771.7,1169.6 773.7,1182.3 773.9,1183.9 775.4,1185.0 775.1,1186.8 776.2,1188.1 777.6,1188.2 778.6,1189.5 780.2,1189.2 781.1,1190.4 782.5,1190.6 783.2,1189.2 784.6,1188.3 784.9,1186.6 786.1,1185.5 787.0,1186.8 788.7,1186.8 789.5,1188.1 790.9,1189.1 792.7,1189.0 794.1,1190.0 796.3,1233.8 798.4,1098.5 799.1,1148.1 801.9,1188.7 803.3,1188.8 804.5,1187.8 806.0,1188.0 807.3,1187.4 807.7,1186.0 809.1,1185.1 809.3,1183.5 810.6,1182.6 810.6,1180.8 811.8,1179.8 815.6,1168.4 816.9,1167.7 817.6,1166.3 819.1,1165.9 820.0,1164.8 820.7,1165.9 820.4,1167.4 821.6,1168.4 821.2,1169.9 822.6,1170.8 822.2,1172.3 822.9,1173.5 825.1,1186.2 825.8,1187.3 825.5,1188.9 826.7,1189.9 826.5,1191.4 827.5,1192.4 827.6,1193.8 828.9,1194.7 830.6,1194.4 831.8,1195.5 833.4,1195.7 833.8,1194.2 835.2,1193.3 835.4,1191.7 836.5,1190.6 838.0,1191.0 839.5,1190.3 841.0,1190.6 842.0,1191.6 843.6,1191.5 844.5,1192.7 845.8,1193.1 848.0,1235.5 849.9,1101.7 850.5,1149.5 853.3,1188.7 854.6,1187.9 856.1,1188.0 857.2,1186.8 858.8,1186.8 859.8,1185.8 859.8,1184.3 861.0,1183.5 861.1,1182.0 862.4,1181.2 862.6,1179.8 865.0,1172.2 865.5,1170.7 866.9,1169.8 867.0,1168.2 868.4,1167.3 868.8,1165.8 869.4,1164.3 871.0,1163.4 871.2,1161.7 872.4,1160.5 872.4,1162.0 873.6,1163.0 873.4,1164.6 874.5,1165.6 874.4,1167.2 875.2,1168.4 877.1,1179.8 879.0,1186.8 880.4,1187.1 881.4,1188.4 882.8,1188.7 884.5,1189.0 886.0,1190.0 887.1,1189.1 887.2,1187.5 888.6,1186.8 889.1,1185.5 890.5,1185.6 891.6,1186.7 893.0,1186.8 894.6,1187.0 895.7,1188.5 897.4,1188.7 899.6,1234.4 901.6,1086.4 902.2,1141.3 905.0,1186.2 906.4,1185.5 907.9,1185.8 909.2,1184.8 910.7,1184.9 911.8,1183.8 911.9,1182.1 913.4,1181.3 913.4,1179.6 914.6,1178.5 915.4,1177.4 915.1,1175.8 916.3,1174.8 916.1,1173.3 917.4,1172.3 917.1,1170.8 918.2,1169.8 918.4,1168.4 918.6,1167.0 919.9,1166.2 919.9,1164.7 921.3,1164.0 921.5,1162.7 923.7,1162.0 926.6,1170.9 928.5,1183.6 930.4,1191.2 932.1,1191.5 933.3,1192.8 934.9,1193.1 936.6,1193.4 938.1,1194.4 939.0,1193.2 938.9,1191.5 940.0,1190.3 940.2,1188.7 941.6,1189.0 942.4,1190.3 943.8,1190.6 945.1,1189.8 946.7,1189.9 947.9,1188.8 949.5,1188.7 951.6,1233.8 953.9,1102.3 954.6,1148.4 957.4,1186.2 958.9,1185.9 960.0,1184.6 961.6,1184.5 962.8,1183.6 963.2,1182.1 964.7,1181.3 964.7,1179.6 966.0,1178.7 966.2,1177.0 967.3,1176.0 968.2,1174.9 967.6,1173.3 969.0,1172.3 968.7,1170.8 969.8,1169.8 969.5,1168.3 970.6,1167.2 970.2,1165.7 971.1,1164.6 972.1,1163.5 972.1,1161.9 973.3,1160.9 973.2,1159.3 974.3,1158.2 975.6,1156.8 976.4,1155.0 979.3,1165.8 981.3,1178.5 983.2,1184.9 984.6,1184.9 985.6,1186.1 987.0,1186.2 988.7,1186.5 990.1,1187.4 991.1,1186.3 991.2,1184.8 992.3,1183.7 992.7,1182.3 994.2,1182.2 995.6,1183.0 997.1,1183.0 998.6,1183.2 999.8,1184.2 1001.3,1184.3 1003.5,1233.2 1005.6,1092.8 1006.3,1144.1 1009.1,1186.2 1010.4,1185.1 1012.2,1185.3 1013.3,1184.0 1014.9,1183.6 1016.0,1182.5 1016.1,1180.9 1017.5,1180.0 1017.6,1178.3 1019.0,1177.5 1019.4,1176.0 1019.5,1174.6 1020.6,1173.5 1020.4,1172.0 1021.5,1171.0 1021.4,1169.5 1022.6,1168.5 1022.3,1166.9 1023.2,1165.8 1024.6,1165.2 1025.3,1163.6 1027.0,1163.2 1028.0,1162.0 1028.8,1163.2 1028.6,1164.7 1029.8,1165.7 1029.5,1167.2 1030.6,1168.3 1030.8,1169.6 1032.7,1182.3 1032.8,1183.7 1033.9,1184.8 1033.6,1186.3 1034.7,1187.3 1034.4,1188.8 1035.2,1190.0 1036.7,1190.2 1037.7,1191.5 1039.1,1191.9 1040.5,1192.1 1041.6,1193.1 1042.5,1191.8 1042.6,1190.2 1043.9,1189.0 1044.1,1187.4 1045.5,1187.6 1046.5,1188.7 1048.0,1188.7 1049.6,1188.3 1051.2,1189.0 1052.8,1188.7 1054.9,1234.4 1057.1,1095.7 1057.7,1144.8 1060.5,1184.9 1061.8,1183.8 1063.6,1183.9 1064.7,1182.6 1066.4,1182.3 1067.3,1181.2 1067.6,1179.7 1069.0,1178.8 1069.0,1177.1 1070.3,1176.1 1070.8,1174.7 1071.0,1173.4 1072.2,1172.4 1071.9,1170.8 1073.2,1169.8 1072.9,1168.3 1074.1,1167.2 1073.8,1165.7 1074.6,1164.6 1075.9,1163.9 1076.4,1162.5 1077.9,1162.2 1078.5,1160.7 1079.7,1160.1 1082.5,1169.6 1084.4,1182.3 1086.7,1190.0 1088.1,1190.9 1089.8,1191.0 1091.2,1191.9 1092.5,1191.1 1093.0,1189.5 1094.3,1188.7 1095.7,1189.6 1097.4,1189.2 1098.8,1190.0 1099.9,1190.9 1101.5,1190.6 1102.5,1191.8 1103.9,1191.9 1106.1,1234.4 1107.7,1108.4 1108.3,1152.6 1111.1,1188.7 1112.6,1188.0 1114.3,1188.5 1115.6,1187.4 1117.2,1187.4 1118.2,1186.3 1118.5,1184.8 1119.7,1183.8 1120.0,1182.2 1121.3,1181.3 1121.7,1179.8 1125.5,1168.4 1126.1,1166.9 1127.6,1166.2 1128.0,1164.6 1129.3,1163.7 1129.9,1162.3 1132.7,1170.9 1134.6,1183.6 1136.9,1192.5 1138.6,1192.7 1139.7,1194.2 1141.4,1194.4 1142.7,1194.4 1143.9,1195.1 1144.7,1193.7 1144.6,1192.1 1145.6,1190.9 1145.8,1189.3 1147.5,1188.8 1149.3,1189.3 1150.9,1188.7 1152.8,1189.0 1154.5,1190.0 1156.6,1235.7 1158.5,1089.0 1159.2,1142.4 1162.0,1186.2 1163.6,1186.3 1164.9,1185.2 1166.6,1185.5 1168.1,1184.9 1168.5,1183.5 1169.8,1182.5 1170.0,1180.9 1171.3,1180.0 1171.4,1178.3 1172.5,1177.3 1173.2,1176.1 1173.0,1174.6 1174.3,1173.6 1174.0,1172.0 1175.3,1171.1 1175.0,1169.5 1176.2,1168.5 1176.3,1167.1 1176.7,1165.7 1178.1,1165.0 1178.3,1163.4 1179.6,1162.7 1180.1,1161.4 1181.0,1162.6 1180.8,1164.3 1182.0,1165.4 1182.0,1167.0 1183.0,1168.2 1183.3,1169.6 1185.2,1182.3 1187.7,1191.2 1188.8,1192.4 1190.5,1192.9 1191.3,1194.4 1192.8,1195.1 1193.2,1193.7 1194.7,1193.0 1194.9,1191.5 1196.0,1190.6 1197.4,1191.4 1199.1,1191.1 1200.5,1191.9 1201.9,1192.3 1203.2,1191.4 1204.6,1191.9 1206.8,1233.2 1209.0,1113.1 1209.6,1154.7 1212.4,1188.7 1213.9,1188.7 1215.3,1187.8 1216.9,1188.2 1218.2,1187.4 1218.4,1185.9 1219.9,1185.1 1219.8,1183.5 1221.2,1182.6 1221.2,1181.0 1222.3,1179.9 1222.7,1178.5 1222.7,1177.1 1224.0,1176.1 1223.9,1174.6 1225.0,1173.6 1224.6,1172.0 1225.9,1171.0 1225.7,1169.5 1226.5,1168.4 1227.5,1167.3 1227.8,1165.8 1229.2,1165.0 1229.2,1163.3 1230.3,1162.3 1230.3,1163.7 1231.5,1164.6 1231.4,1166.1 1232.4,1167.1 1232.3,1168.6 1233.3,1169.6 1233.5,1170.9 1235.4,1182.3 1237.9,1190.6 1238.9,1191.7 1240.4,1191.9 1241.1,1193.3 1242.4,1193.8 1243.7,1193.8 1244.9,1194.4 1245.7,1193.1 1245.5,1191.5 1246.7,1190.3 1246.6,1188.7 1247.5,1187.4 1249.2,1187.8 1250.8,1187.0 1252.5,1187.4 1253.8,1188.3 1255.2,1188.7 1257.4,1234.4 1259.5,1091.1 1260.2,1142.7 1263.0,1184.9 1264.1,1184.1 1265.5,1184.1 1266.5,1183.0 1268.0,1183.3 1269.1,1182.3 1269.3,1180.9 1270.7,1180.0 1270.7,1178.4 1271.8,1177.4 1271.9,1175.8 1272.9,1174.7 1273.7,1173.6 1273.5,1172.0 1274.6,1171.0 1274.4,1169.5 1275.7,1168.5 1275.3,1166.9 1276.5,1165.9 1276.7,1164.6 1277.4,1163.2 1279.1,1162.6 1279.5,1160.9 1281.0,1160.2 1281.8,1158.8 1282.6,1160.1 1282.6,1161.7 1283.8,1162.8 1283.5,1164.5 1284.7,1165.6 1284.9,1167.1 1286.8,1179.8 1288.8,1190.0 1289.3,1191.4 1290.5,1192.4 1290.8,1193.9 1292.0,1194.9 1292.6,1196.3 1294.0,1196.0 1295.1,1195.1 1296.4,1189.3 1298.1,1189.8 1299.2,1191.3 1300.8,1191.9 1302.3,1192.3 1303.4,1193.5 1305.0,1193.8 1307.2,1229.4 1309.5,1128.7 1310.1,1161.0 1312.9,1187.4 1314.3,1186.9 1315.8,1187.1 1317.1,1186.2 1318.6,1186.2 1319.6,1185.1 1319.9,1183.5 1321.1,1182.5 1321.3,1180.9 1322.7,1180.0 1323.1,1178.5 1323.1,1177.1 1324.4,1176.1 1323.9,1174.6 1325.2,1173.6 1324.8,1172.1 1325.9,1171.0 1325.6,1169.5 1326.8,1168.5 1326.9,1167.1 1327.5,1167.1 1327.8,1165.6 1329.3,1164.9 1329.2,1163.2 1330.5,1162.3 1330.5,1160.7 1331.6,1159.7 1331.7,1161.1 1332.7,1162.1 1332.6,1163.5 1333.6,1164.6 1333.4,1166.0 1334.5,1167.0 1334.5,1168.4 1336.4,1182.3 1338.3,1188.7 1339.8,1189.9 1341.5,1190.6 1343.2,1191.0 1344.7,1191.9 1345.6,1190.8 1345.3,1189.2 1346.5,1188.2 1346.5,1186.7 1347.2,1185.5 1348.6,1186.4 1350.3,1186.5 1351.7,1187.4 1352.6,1188.5 1354.3,1188.3 1355.2,1189.3 1357.4,1233.2 1359.3,1103.8 1359.9,1149.1 1362.7,1186.2 1364.0,1186.9 1365.5,1186.5 1366.8,1187.5 1368.2,1187.4 1368.6,1186.0 1370.0,1185.1 1370.2,1183.5 1371.5,1182.5 1371.5,1180.8 1372.6,1179.8 1376.5,1168.4 1377.6,1167.5 1377.9,1166.0 1379.3,1165.3 1379.6,1163.8 1381.0,1163.1 1381.5,1161.8 1382.4,1162.9 1382.1,1164.6 1383.5,1165.5 1383.4,1167.1 1384.5,1168.2 1384.7,1169.6 1386.6,1182.3 1388.5,1191.2 1389.6,1192.3 1391.2,1192.2 1392.3,1193.1 1394.2,1193.8 1396.1,1186.8 1397.9,1186.9 1399.5,1186.0 1401.2,1186.2 1402.9,1187.2 1404.8,1187.4 1406.9,1232.5 1408.9,1093.2 1409.5,1142.2 1412.3,1182.3 1413.5,1181.6 1415.1,1182.1 1416.3,1180.9 1417.7,1181.1 1418.9,1180.3 1419.3,1178.9 1420.8,1178.3 1421.0,1176.8 1422.2,1176.0 1422.9,1174.8 1422.7,1173.3 1423.9,1172.3 1423.7,1170.8 1424.9,1169.8 1424.6,1168.2 1425.9,1167.2 1426.0,1165.8 1426.8,1164.6 1428.2,1164.1 1428.7,1162.7 1430.1,1162.2 1430.8,1161.0 1431.6,1162.1 1431.3,1163.6 1432.4,1164.6 1432.3,1166.1 1433.3,1167.1 1433.0,1168.6 1433.9,1169.6 1435.8,1182.3 1438.1,1192.5 1439.6,1193.2 1440.3,1195.0 1441.9,1195.7 1443.8,1196.3 1443.9,1194.9 1445.1,1193.9 1445.0,1192.4 1445.7,1191.2 1447.4,1191.5 1449.0,1190.4 1450.8,1190.6 1452.5,1191.5 1454.3,1191.9 1456.5,1233.8 1458.4,1110.9 1459.0,1153.0 1461.8,1187.4 1463.1,1186.5 1464.7,1186.4 1465.8,1185.1 1467.3,1184.9 1468.4,1183.9 1468.5,1182.2 1469.9,1181.3 1470.0,1179.6 1471.4,1178.7 1471.7,1177.3 1471.7,1175.8 1473.0,1174.9 1472.6,1173.3 1473.8,1172.3 1473.6,1170.8 1474.6,1169.8 1474.3,1168.2 1475.4,1167.2 1475.6,1165.8 1476.2,1164.5 1477.7,1163.9 1478.2,1162.5 1479.6,1161.8 1480.3,1160.5 1481.1,1161.7 1481.0,1163.3 1482.2,1164.3 1482.0,1165.9 1483.4,1166.9 1483.4,1168.4 1485.3,1181.1 1487.6,1188.7 1488.8,1189.6 1490.3,1189.1 1491.4,1190.0 1492.7,1188.7 1492.8,1186.8 1494.0,1185.5 1495.6,1186.1 1497.4,1185.5 1499.1,1186.2 1500.6,1186.7 1502.3,1186.2 1503.9,1186.8 1506.0,1235.5 1508.0,1082.0 1508.6,1138.6 1511.4,1184.9 1512.8,1185.3 1514.1,1184.5 1515.5,1185.2 1516.8,1184.9 1517.5,1183.5 1518.8,1182.5 1519.2,1180.9 1520.7,1180.0 1521.3,1178.5 1525.1,1167.1 1525.6,1165.8 1527.1,1165.3 1527.4,1163.8 1528.8,1163.3 1529.3,1162.0 1530.2,1163.2 1530.1,1164.7 1531.3,1165.7 1531.2,1167.3 1532.5,1168.2 1532.7,1169.6 1534.6,1182.3 1536.9,1191.2 1538.0,1192.5 1539.9,1192.5 1541.0,1193.8 1542.9,1195.1 1543.8,1193.9 1543.4,1192.3 1544.7,1191.4 1544.8,1190.0 1546.5,1189.6 1548.2,1190.3 1549.9,1190.0 1551.3,1189.8 1552.6,1190.9 1554.1,1190.6 1556.2,1233.2 1558.1,1112.5 1558.8,1153.7 1561.6,1187.4 1563.4,1187.8 1565.0,1188.7 1566.3,1188.1 1566.6,1186.5 1568.1,1186.1 1568.8,1184.9 1569.1,1183.5 1570.2,1182.5 1570.2,1181.0 1571.4,1180.0 1571.2,1178.3 1572.6,1177.5 1572.3,1175.8 1573.3,1174.7 1574.1,1173.6 1574.0,1172.1 1575.1,1171.1 1574.8,1169.5 1576.0,1168.5 1575.8,1167.0 1577.0,1166.0 1577.1,1164.6 1577.7,1163.3 1579.0,1162.7 1579.4,1161.3 1580.5,1160.5 1580.6,1161.9 1581.9,1163.0 1581.7,1164.5 1582.8,1165.6 1582.5,1167.2 1583.4,1168.4 1585.3,1181.1 1587.2,1188.1 1588.8,1188.0 1590.2,1188.8 1591.7,1188.7 1593.5,1189.3 1594.9,1190.6 1596.8,1184.3 1597.9,1185.0 1599.4,1184.4 1600.5,1185.6 1601.8,1185.5 1603.4,1185.6 1604.7,1186.7 1606.3,1186.8 1608.5,1237.6 1610.5,1080.1 1611.1,1138.4 1613.9,1186.2 1615.3,1185.8 1616.8,1186.6 1618.2,1185.8 1619.6,1186.2 1620.8,1185.1 1621.1,1183.4 1622.7,1182.6 1622.9,1180.9 1624.1,1179.8 1627.9,1167.1 1628.9,1166.2 1629.2,1164.8 1630.6,1164.2 1630.7,1162.6 1632.0,1162.0 1632.6,1160.7 1635.5,1169.6 1637.4,1182.3 1639.3,1191.2 1640.9,1191.6 1642.1,1192.9 1643.8,1193.1 1645.2,1193.4 1646.1,1194.8 1647.6,1195.1 1647.8,1193.6 1649.1,1192.6 1649.2,1191.1 1650.5,1190.2 1650.8,1188.7 1652.4,1188.7 1653.6,1189.9 1655.2,1190.0 1657.2,1189.8 1659.0,1190.6 1661.2,1235.1 1663.2,1102.9 1663.8,1150.1 1666.6,1188.7 1668.2,1188.4 1669.3,1187.0 1671.1,1187.1 1672.4,1186.2 1672.7,1184.7 1674.2,1183.8 1674.3,1182.2 1675.6,1181.2 1675.8,1179.7 1676.8,1178.5 1677.5,1177.4 1677.4,1175.9 1678.3,1174.8 1678.1,1173.3 1679.2,1172.3 1678.9,1170.8 1680.2,1169.8 1679.8,1168.2 1680.6,1167.1 1681.9,1166.2 1682.1,1164.6 1683.7,1164.0 1683.8,1162.2 1685.1,1161.4 1687.0,1160.1 1689.8,1169.6 1691.7,1182.3 1693.6,1188.7 1694.9,1189.5 1696.5,1189.1 1697.8,1190.0 1699.3,1190.9 1700.9,1191.2 1701.2,1189.9 1702.2,1188.8 1702.2,1187.3 1703.3,1186.3 1703.5,1184.9 1705.1,1185.0 1706.3,1186.1 1707.9,1186.2 1709.3,1186.2 1710.4,1187.3 1711.7,1187.4 1713.9,1235.7 1716.2,1080.1 1716.8,1139.1 1719.6,1187.4 1720.8,1186.5 1722.5,1186.5 1723.6,1185.2 1725.1,1184.9 1726.1,1183.8 1726.2,1182.1 1727.6,1181.2 1727.7,1179.6 1729.1,1178.7 1729.5,1177.3 1733.3,1165.8 1734.1,1164.5 1735.8,1164.3 1736.3,1162.8 1737.5,1162.0 1737.6,1163.4 1738.9,1164.4 1738.7,1165.9 1739.8,1167.0 1739.6,1168.5 1740.8,1169.5 1741.0,1170.9 1742.9,1183.6 1744.8,1192.5 1746.1,1193.4 1747.9,1192.9 1749.2,1193.8 1750.6,1194.5 1752.3,1194.3 1753.7,1195.1 1754.6,1194.1 1754.6,1192.6 1756.0,1191.8 1755.9,1190.3 1756.8,1189.3 1758.3,1189.9 1759.9,1189.4 1761.3,1190.0 1762.6,1190.6 1764.1,1190.0 1765.5,1190.6 1767.6,1235.1 1769.8,1102.0 1770.4,1149.0 1773.2,1187.4 1774.8,1187.0 1776.0,1185.8 1777.7,1185.8 1779.1,1184.9 1779.3,1183.4 1780.6,1182.5 1780.7,1180.9 1781.9,1179.9 1781.9,1178.4 1783.3,1177.5 1783.5,1176.0 1783.6,1174.6 1784.7,1173.6 1784.3,1172.0 1785.5,1171.0 1785.3,1169.5 1786.5,1168.5 1786.3,1167.0 1787.3,1166.0 1787.3,1164.6 1788.0,1163.1 1789.5,1162.3 1790.0,1160.7 1791.5,1159.9 1792.2,1158.5 1795.0,1167.1 1796.9,1179.8 1799.4,1188.1 1800.7,1188.4 1801.5,1189.7 1802.8,1190.0"/>
<line class="tk" x1="388.40" y1="1246.20" x2="388.40" y2="1261.40"/>
<line class="tk" x1="671.30" y1="1246.20" x2="671.30" y2="1261.40"/>
<line class="tk" x1="954.30" y1="1246.20" x2="954.30" y2="1261.40"/>
<line class="tk" x1="1237.20" y1="1246.20" x2="1237.20" y2="1261.40"/>
<line class="tk" x1="1520.15" y1="1246.20" x2="1520.15" y2="1261.40"/>
<line class="tk" x1="1802.30" y1="1246.20" x2="1802.30" y2="1261.40"/>
<line class="tk" x1="373.20" y1="1091.90" x2="388.40" y2="1091.90"/>
<text class="tl" x="357.80" y="1114.60" text-anchor="end">0.0025</text>
<line class="tk" x1="373.20" y1="1182.20" x2="388.40" y2="1182.20"/>
<text class="tl" x="357.80" y="1204.90" text-anchor="end">0.0000</text>
<rect class="sp" x="388.40" y="1072.80" width="1414.80" height="173.40"/>
<text class="ttl" x="415.40" y="1055.90">E</text>
</g>
<text class="tl" x="388.50" y="1321.37" text-anchor="middle">0</text>
<text class="tl" x="671.40" y="1321.37" text-anchor="middle">1000</text>
<text class="tl" x="954.40" y="1321.37" text-anchor="middle">2000</text>
<text class="tl" x="1237.30" y="1321.37" text-anchor="middle">3000</text>
<text class="tl" x="1520.25" y="1321.37" text-anchor="middle">4000</text>
<text class="tl" x="1802.40" y="1321.37" text-anchor="middle">4998</text>
<text class="al" x="1096.20" y="1395.30" text-anchor="middle">Time in miliseconds</text>
<text class="al" transform="translate(91.80,582.90) rotate(-90)" text-anchor="middle">Amplitude in mV</text>
</svg>
</body></html>
